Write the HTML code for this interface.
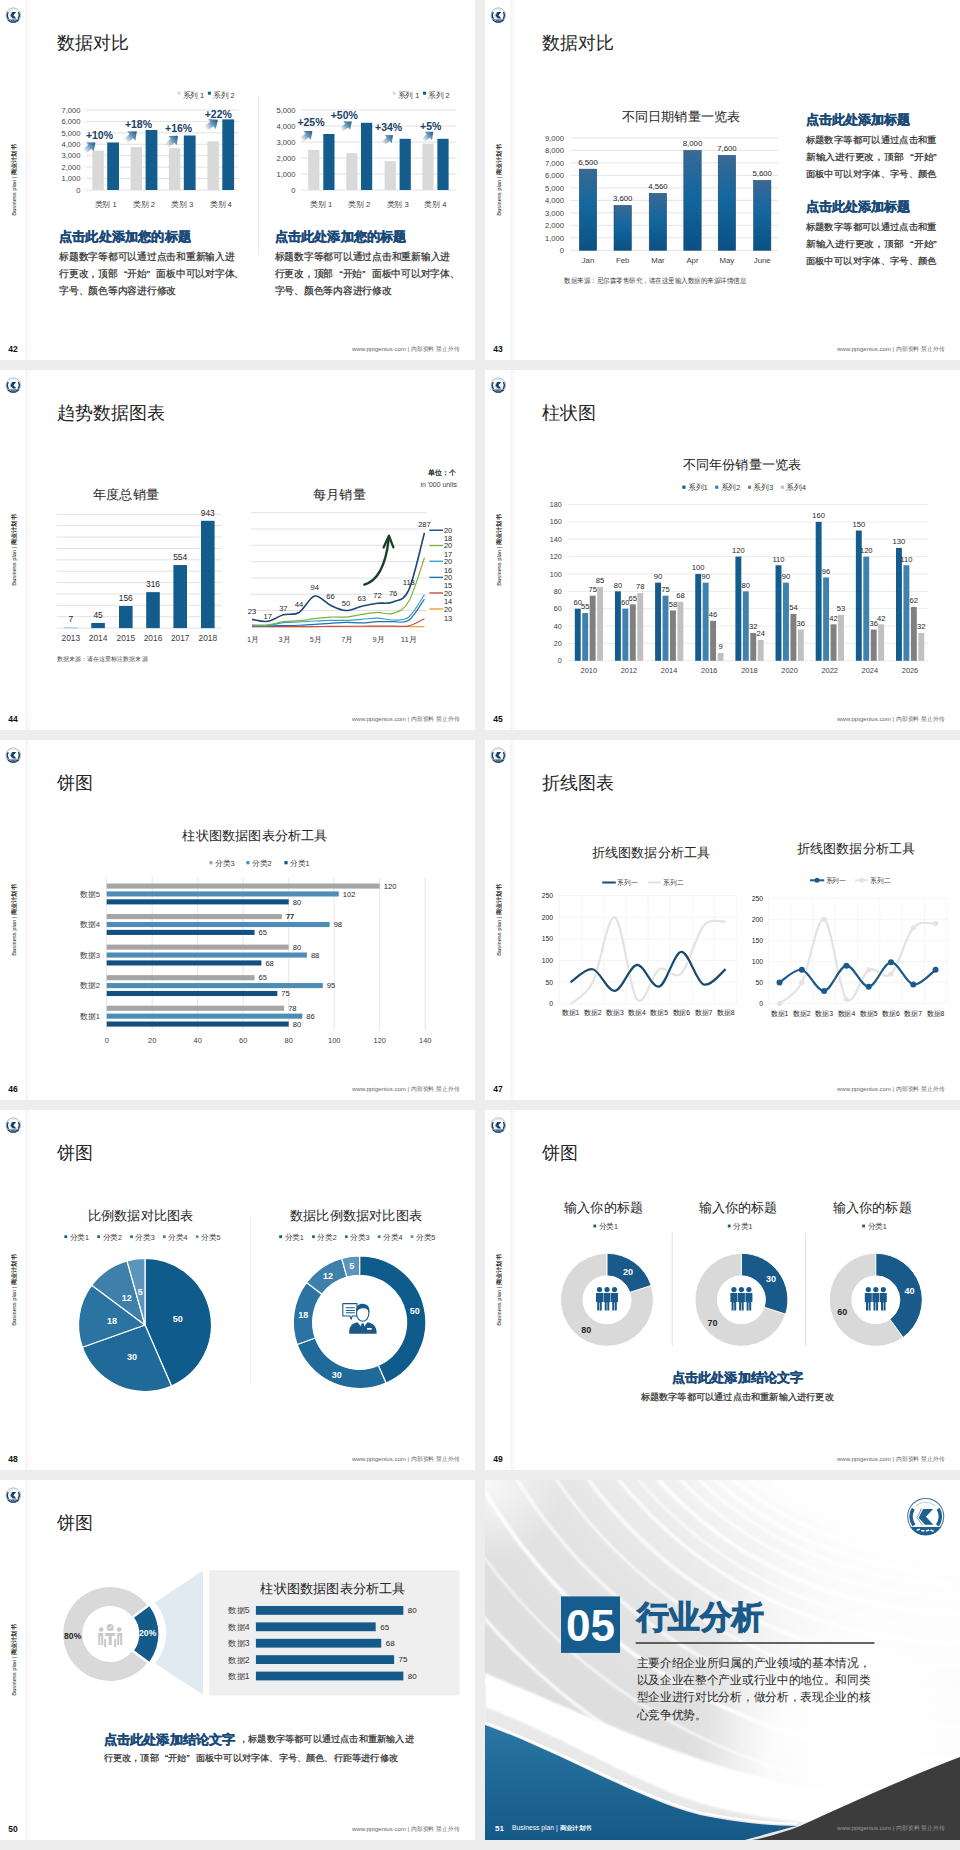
<!DOCTYPE html>
<html><head><meta charset="utf-8"><title>slides</title>
<style>
html,body{margin:0;padding:0;background:#ededed;}
body{width:960px;height:1850px;overflow:hidden;}
svg{display:block;font-family:"Liberation Sans", sans-serif;}
</style></head><body>
<svg width="960" height="1850" viewBox="0 0 960 1850">
<defs>
<symbol id="logo" viewBox="-20 -20 40 40" overflow="visible">
  <circle cx="0" cy="0" r="19.2" fill="#fff" stroke="currentColor" stroke-width="1.1" stroke-opacity="0.85"/>
  <path d="M-16.4,11.2 A19.5,19.5 0 0 0 16.4,11.2 Z" fill="currentColor"/>
  <path d="M-13.2,-8.2 A15.3,15.3 0 0 0 -12.4,9.4" fill="none" stroke="currentColor" stroke-width="3.7"/>
  <path d="M13.2,-8.2 A15.3,15.3 0 0 1 12.4,9.4" fill="none" stroke="currentColor" stroke-width="3.7"/>
  <path d="M7.8,-8.1 L-2.8,-8.1 L-7.5,1.4 L-0.8,8.7 L8.2,8.7 L0.3,0.3 Z" fill="currentColor"/>
  <path d="M-4.6,-8.6 Q-6.5,-3 -9.3,1.2 Q-6.5,5 -3.4,9.2" fill="none" stroke="currentColor" stroke-width="0.8" stroke-opacity="0.85"/>
  <path d="M-10.5,-11 A15.5,15.5 0 0 1 10.5,-11" fill="none" stroke="currentColor" stroke-width="0.9" stroke-dasharray="1.1 0.7" stroke-opacity="0.6"/>
  <path d="M-9,14.6 l2.2,-1 M-4.2,15.2 l2.4,0 M0.8,15.2 l2.4,-0.6 M5.6,14.6 l2.2,0.8" stroke="#fff" stroke-width="1.5" stroke-linecap="round"/>
</symbol>


<linearGradient id="strip" x1="0" y1="0" x2="1" y2="0">
  <stop offset="0" stop-color="#f5f5f5"/>
  <stop offset="0.35" stop-color="#f7f7f7"/>
  <stop offset="1" stop-color="#ffffff"/>
</linearGradient>
<linearGradient id="arrg" x1="0" y1="0" x2="14" y2="0" gradientUnits="userSpaceOnUse">
  <stop offset="0" stop-color="#1e5c8c" stop-opacity="0"/>
  <stop offset="0.55" stop-color="#2a6a9a" stop-opacity="0.7"/>
  <stop offset="1" stop-color="#1a5484" stop-opacity="1"/>
</linearGradient>


<linearGradient id="barg43" x1="0" y1="0" x2="0" y2="1">
  <stop offset="0" stop-color="#3a6994"/>
  <stop offset="0.45" stop-color="#13679f"/>
  <stop offset="1" stop-color="#0b5083"/>
</linearGradient>


<radialGradient id="rad51" cx="960" cy="1205" r="700" gradientUnits="userSpaceOnUse">
  <stop offset="0" stop-color="#fff" stop-opacity="1"/>
  <stop offset="0.47" stop-color="#fff" stop-opacity="1"/>
  <stop offset="0.56" stop-color="#fff" stop-opacity="0.62"/>
  <stop offset="0.72" stop-color="#fff" stop-opacity="0.22"/>
  <stop offset="0.9" stop-color="#fff" stop-opacity="0.05"/>
  <stop offset="1" stop-color="#fff" stop-opacity="0"/>
</radialGradient>
<linearGradient id="rgt51" x1="680" y1="0" x2="960" y2="0" gradientUnits="userSpaceOnUse">
  <stop offset="0" stop-color="#fff" stop-opacity="0"/>
  <stop offset="1" stop-color="#fff" stop-opacity="0.75"/>
</linearGradient>
<radialGradient id="tl51" cx="485" cy="1480" r="80" gradientUnits="userSpaceOnUse">
  <stop offset="0" stop-color="#fff" stop-opacity="0.8"/>
  <stop offset="1" stop-color="#fff" stop-opacity="0"/>
</radialGradient>
<radialGradient id="haze52" cx="850" cy="1770" r="150" gradientUnits="userSpaceOnUse">
  <stop offset="0" stop-color="#fff" stop-opacity="1"/>
  <stop offset="0.55" stop-color="#fff" stop-opacity="0.8"/>
  <stop offset="1" stop-color="#fff" stop-opacity="0"/>
</radialGradient>
<radialGradient id="haze51" cx="880" cy="1660" r="170" gradientUnits="userSpaceOnUse">
  <stop offset="0" stop-color="#fff" stop-opacity="0.9"/>
  <stop offset="0.6" stop-color="#fff" stop-opacity="0.5"/>
  <stop offset="1" stop-color="#fff" stop-opacity="0"/>
</radialGradient>
<linearGradient id="blue51" x1="0" y1="0" x2="0" y2="1">
  <stop offset="0" stop-color="#2a76a3"/>
  <stop offset="1" stop-color="#155987"/>
</linearGradient>
<filter id="blur1" x="-5%" y="-5%" width="110%" height="110%"><feGaussianBlur stdDeviation="1.1"/></filter>
<clipPath id="clip51"><rect x="485" y="1480" width="475" height="360"/></clipPath>
</defs>
<rect x="0" y="0" width="960" height="1850" fill="#ededed"/>
<rect x="0" y="0" width="475" height="360" fill="#ffffff"/>
<rect x="25" y="0" width="6" height="360" fill="url(#strip)"/>
<use href="#logo" x="5.7" y="7.6" width="15.2" height="15.2" style="color:#173d66"/>
<text transform="translate(15.5,180) rotate(-90)" font-size="5.6" fill="#222" text-anchor="middle" textLength="71.4" lengthAdjust="spacingAndGlyphs">Business plan | <tspan font-weight="bold">商业计划书</tspan></text>
<text x="12.9" y="351.5" font-size="8.5" fill="#111" text-anchor="middle" font-weight="bold">42</text>
<text x="459.5" y="351.2" font-size="6.2" fill="#666" text-anchor="end" textLength="107.5" lengthAdjust="spacingAndGlyphs">www.pptgenius.com | 内部资料 禁止外传</text>
<text x="57" y="48.5" font-size="18" fill="#262626" textLength="72" lengthAdjust="spacingAndGlyphs">数据对比</text>
<line x1="258.5" y1="96" x2="258.5" y2="255" stroke="#eeeeee" stroke-width="1"/>
<line x1="86" y1="190" x2="239" y2="190" stroke="#d9d9d9" stroke-width="0.8"/>
<text x="80.5" y="192.74" font-size="7.6" fill="#404040" text-anchor="end">0</text>
<line x1="86" y1="178.57" x2="239" y2="178.57" stroke="#d9d9d9" stroke-width="0.8"/>
<text x="80.5" y="181.31" font-size="7.6" fill="#404040" text-anchor="end">1,000</text>
<line x1="86" y1="167.14" x2="239" y2="167.14" stroke="#d9d9d9" stroke-width="0.8"/>
<text x="80.5" y="169.88" font-size="7.6" fill="#404040" text-anchor="end">2,000</text>
<line x1="86" y1="155.71" x2="239" y2="155.71" stroke="#d9d9d9" stroke-width="0.8"/>
<text x="80.5" y="158.45" font-size="7.6" fill="#404040" text-anchor="end">3,000</text>
<line x1="86" y1="144.29" x2="239" y2="144.29" stroke="#d9d9d9" stroke-width="0.8"/>
<text x="80.5" y="147.02" font-size="7.6" fill="#404040" text-anchor="end">4,000</text>
<line x1="86" y1="132.86" x2="239" y2="132.86" stroke="#d9d9d9" stroke-width="0.8"/>
<text x="80.5" y="135.59" font-size="7.6" fill="#404040" text-anchor="end">5,000</text>
<line x1="86" y1="121.43" x2="239" y2="121.43" stroke="#d9d9d9" stroke-width="0.8"/>
<text x="80.5" y="124.16" font-size="7.6" fill="#404040" text-anchor="end">6,000</text>
<line x1="86" y1="110" x2="239" y2="110" stroke="#d9d9d9" stroke-width="0.8"/>
<text x="80.5" y="112.74" font-size="7.6" fill="#404040" text-anchor="end">7,000</text>
<rect x="92.3" y="150.57" width="11.5" height="39.43" fill="#d9d9d9"/>
<rect x="107.2" y="142.46" width="11.8" height="47.54" fill="#135c8d"/>
<rect x="130.6" y="147.03" width="11.5" height="42.97" fill="#d9d9d9"/>
<rect x="145.6" y="130" width="11.8" height="60" fill="#135c8d"/>
<rect x="168.9" y="148.06" width="11.5" height="41.94" fill="#d9d9d9"/>
<rect x="183.8" y="135.49" width="11.8" height="54.51" fill="#135c8d"/>
<rect x="207.4" y="141.2" width="11.5" height="48.8" fill="#d9d9d9"/>
<rect x="222.3" y="119.37" width="11.8" height="70.63" fill="#135c8d"/>
<text x="105.65" y="206.81" font-size="7.8" fill="#404040" text-anchor="middle" textLength="22.11" lengthAdjust="spacingAndGlyphs">类别 1</text>
<text x="144" y="206.81" font-size="7.8" fill="#404040" text-anchor="middle" textLength="22.11" lengthAdjust="spacingAndGlyphs">类别 2</text>
<text x="182.25" y="206.81" font-size="7.8" fill="#404040" text-anchor="middle" textLength="22.11" lengthAdjust="spacingAndGlyphs">类别 3</text>
<text x="220.75" y="206.81" font-size="7.8" fill="#404040" text-anchor="middle" textLength="22.11" lengthAdjust="spacingAndGlyphs">类别 4</text>
<text x="85.9" y="139.48" font-size="10.5" fill="#1a4268" font-weight="bold">+10%</text>
<text x="124.9" y="128.08" font-size="10.5" fill="#1a4268" font-weight="bold">+18%</text>
<text x="165" y="132.38" font-size="10.5" fill="#1a4268" font-weight="bold">+16%</text>
<text x="204.7" y="117.78" font-size="10.5" fill="#1a4268" font-weight="bold">+22%</text>
<g transform="translate(84.2,151.5) rotate(-38.54) scale(1.03)"><path d="M0,-2.5 L7.2,-2.5 L7.2,-5.8 L14,0 L7.2,5.8 L7.2,2.5 L0,2.5 Z" fill="url(#arrg)"/></g>
<g transform="translate(125.5,141.3) rotate(-41.79) scale(1.08)"><path d="M0,-2.5 L7.2,-2.5 L7.2,-5.8 L14,0 L7.2,5.8 L7.2,2.5 L0,2.5 Z" fill="url(#arrg)"/></g>
<g transform="translate(166.8,145.9) rotate(-42.04) scale(1.08)"><path d="M0,-2.5 L7.2,-2.5 L7.2,-5.8 L14,0 L7.2,5.8 L7.2,2.5 L0,2.5 Z" fill="url(#arrg)"/></g>
<g transform="translate(205.5,128.7) rotate(-36.05) scale(1.1)"><path d="M0,-2.5 L7.2,-2.5 L7.2,-5.8 L14,0 L7.2,5.8 L7.2,2.5 L0,2.5 Z" fill="url(#arrg)"/></g>
<rect x="177.5" y="91.7" width="3" height="3" fill="#d9d9d9"/>
<text x="182.5" y="97.95" font-size="7.65" fill="#404040" textLength="21.68" lengthAdjust="spacingAndGlyphs">系列 1</text>
<rect x="207.9" y="91.7" width="3" height="3" fill="#135c8d"/>
<text x="212.9" y="97.95" font-size="7.65" fill="#404040" textLength="21.68" lengthAdjust="spacingAndGlyphs">系列 2</text>
<line x1="301" y1="190" x2="456" y2="190" stroke="#d9d9d9" stroke-width="0.8"/>
<text x="295.5" y="192.74" font-size="7.6" fill="#404040" text-anchor="end">0</text>
<line x1="301" y1="174" x2="456" y2="174" stroke="#d9d9d9" stroke-width="0.8"/>
<text x="295.5" y="176.74" font-size="7.6" fill="#404040" text-anchor="end">1,000</text>
<line x1="301" y1="158" x2="456" y2="158" stroke="#d9d9d9" stroke-width="0.8"/>
<text x="295.5" y="160.74" font-size="7.6" fill="#404040" text-anchor="end">2,000</text>
<line x1="301" y1="142" x2="456" y2="142" stroke="#d9d9d9" stroke-width="0.8"/>
<text x="295.5" y="144.74" font-size="7.6" fill="#404040" text-anchor="end">3,000</text>
<line x1="301" y1="126" x2="456" y2="126" stroke="#d9d9d9" stroke-width="0.8"/>
<text x="295.5" y="128.74" font-size="7.6" fill="#404040" text-anchor="end">4,000</text>
<line x1="301" y1="110" x2="456" y2="110" stroke="#d9d9d9" stroke-width="0.8"/>
<text x="295.5" y="112.74" font-size="7.6" fill="#404040" text-anchor="end">5,000</text>
<rect x="308.2" y="150" width="11.2" height="40" fill="#d9d9d9"/>
<rect x="323.3" y="134" width="11.2" height="56" fill="#135c8d"/>
<rect x="346.3" y="153.2" width="11.2" height="36.8" fill="#d9d9d9"/>
<rect x="361" y="122.8" width="11.2" height="67.2" fill="#135c8d"/>
<rect x="384.6" y="161.2" width="11.2" height="28.8" fill="#d9d9d9"/>
<rect x="399.6" y="138.8" width="11.2" height="51.2" fill="#135c8d"/>
<rect x="422.4" y="143.6" width="11.2" height="46.4" fill="#d9d9d9"/>
<rect x="437.4" y="138.8" width="11.2" height="51.2" fill="#135c8d"/>
<text x="321.35" y="206.81" font-size="7.8" fill="#404040" text-anchor="middle" textLength="22.11" lengthAdjust="spacingAndGlyphs">类别 1</text>
<text x="359.25" y="206.81" font-size="7.8" fill="#404040" text-anchor="middle" textLength="22.11" lengthAdjust="spacingAndGlyphs">类别 2</text>
<text x="397.7" y="206.81" font-size="7.8" fill="#404040" text-anchor="middle" textLength="22.11" lengthAdjust="spacingAndGlyphs">类别 3</text>
<text x="435.5" y="206.81" font-size="7.8" fill="#404040" text-anchor="middle" textLength="22.11" lengthAdjust="spacingAndGlyphs">类别 4</text>
<text x="297.4" y="126.18" font-size="10.5" fill="#1a4268" font-weight="bold">+25%</text>
<text x="330.7" y="119.28" font-size="10.5" fill="#1a4268" font-weight="bold">+50%</text>
<text x="375" y="131.48" font-size="10.5" fill="#1a4268" font-weight="bold">+34%</text>
<text x="420" y="130.38" font-size="10.5" fill="#1a4268" font-weight="bold">+5%</text>
<g transform="translate(301.5,140.1) rotate(-39.55) scale(1.01)"><path d="M0,-2.5 L7.2,-2.5 L7.2,-5.8 L14,0 L7.2,5.8 L7.2,2.5 L0,2.5 Z" fill="url(#arrg)"/></g>
<g transform="translate(341.2,129.8) rotate(-38.06) scale(0.96)"><path d="M0,-2.5 L7.2,-2.5 L7.2,-5.8 L14,0 L7.2,5.8 L7.2,2.5 L0,2.5 Z" fill="url(#arrg)"/></g>
<g transform="translate(382.9,143.5) rotate(-39.14) scale(0.94)"><path d="M0,-2.5 L7.2,-2.5 L7.2,-5.8 L14,0 L7.2,5.8 L7.2,2.5 L0,2.5 Z" fill="url(#arrg)"/></g>
<g transform="translate(423.1,140.5) rotate(-40.46) scale(0.96)"><path d="M0,-2.5 L7.2,-2.5 L7.2,-5.8 L14,0 L7.2,5.8 L7.2,2.5 L0,2.5 Z" fill="url(#arrg)"/></g>
<rect x="392.6" y="91.7" width="3" height="3" fill="#d9d9d9"/>
<text x="397.6" y="97.95" font-size="7.65" fill="#404040" textLength="21.68" lengthAdjust="spacingAndGlyphs">系列 1</text>
<rect x="423" y="91.7" width="3" height="3" fill="#135c8d"/>
<text x="428" y="97.95" font-size="7.65" fill="#404040" textLength="21.68" lengthAdjust="spacingAndGlyphs">系列 2</text>
<text x="59" y="241.25" font-size="13.2" fill="#1a4a78" font-weight="bold" textLength="132" lengthAdjust="spacingAndGlyphs" stroke="#1a4a78" stroke-width="0.35">点击此处添加您的标题</text>
<text x="59" y="260.21" font-size="9.75" fill="#303030" textLength="175.5" lengthAdjust="spacingAndGlyphs" stroke="#303030" stroke-width="0.22">标题数字等都可以通过点击和重新输入进</text>
<text x="59" y="277.01" font-size="9.75" fill="#303030" textLength="185.25" lengthAdjust="spacingAndGlyphs" stroke="#303030" stroke-width="0.22">行更改，顶部<tspan dx="6.5">“</tspan>开始”<tspan dx="6.5">面</tspan>板中可以对字体、</text>
<text x="59" y="293.81" font-size="9.75" fill="#303030" textLength="117" lengthAdjust="spacingAndGlyphs" stroke="#303030" stroke-width="0.22">字号、颜色等内容进行修改</text>
<text x="274.5" y="241.25" font-size="13.2" fill="#1a4a78" font-weight="bold" textLength="132" lengthAdjust="spacingAndGlyphs" stroke="#1a4a78" stroke-width="0.35">点击此处添加您的标题</text>
<text x="274.5" y="260.21" font-size="9.75" fill="#303030" textLength="175.5" lengthAdjust="spacingAndGlyphs" stroke="#303030" stroke-width="0.22">标题数字等都可以通过点击和重新输入进</text>
<text x="274.5" y="277.01" font-size="9.75" fill="#303030" textLength="185.25" lengthAdjust="spacingAndGlyphs" stroke="#303030" stroke-width="0.22">行更改，顶部<tspan dx="6.5">“</tspan>开始”<tspan dx="6.5">面</tspan>板中可以对字体、</text>
<text x="274.5" y="293.81" font-size="9.75" fill="#303030" textLength="117" lengthAdjust="spacingAndGlyphs" stroke="#303030" stroke-width="0.22">字号、颜色等内容进行修改</text>
<rect x="485" y="0" width="475" height="360" fill="#ffffff"/>
<rect x="510" y="0" width="6" height="360" fill="url(#strip)"/>
<use href="#logo" x="490.7" y="7.6" width="15.2" height="15.2" style="color:#173d66"/>
<text transform="translate(500.5,180) rotate(-90)" font-size="5.6" fill="#222" text-anchor="middle" textLength="71.4" lengthAdjust="spacingAndGlyphs">Business plan | <tspan font-weight="bold">商业计划书</tspan></text>
<text x="497.9" y="351.5" font-size="8.5" fill="#111" text-anchor="middle" font-weight="bold">43</text>
<text x="944.5" y="351.2" font-size="6.2" fill="#666" text-anchor="end" textLength="107.5" lengthAdjust="spacingAndGlyphs">www.pptgenius.com | 内部资料 禁止外传</text>
<text x="542" y="48.5" font-size="18" fill="#262626" textLength="72" lengthAdjust="spacingAndGlyphs">数据对比</text>
<text x="681" y="121.05" font-size="13.2" fill="#262626" text-anchor="middle" textLength="118.8" lengthAdjust="spacingAndGlyphs">不同日期销量一览表</text>
<line x1="570.5" y1="250.3" x2="778" y2="250.3" stroke="#d9d9d9" stroke-width="0.7"/>
<text x="564" y="253.04" font-size="7.6" fill="#404040" text-anchor="end">0</text>
<line x1="570.5" y1="237.81" x2="778" y2="237.81" stroke="#d9d9d9" stroke-width="0.7"/>
<text x="564" y="240.55" font-size="7.6" fill="#404040" text-anchor="end">1,000</text>
<line x1="570.5" y1="225.32" x2="778" y2="225.32" stroke="#d9d9d9" stroke-width="0.7"/>
<text x="564" y="228.06" font-size="7.6" fill="#404040" text-anchor="end">2,000</text>
<line x1="570.5" y1="212.83" x2="778" y2="212.83" stroke="#d9d9d9" stroke-width="0.7"/>
<text x="564" y="215.57" font-size="7.6" fill="#404040" text-anchor="end">3,000</text>
<line x1="570.5" y1="200.34" x2="778" y2="200.34" stroke="#d9d9d9" stroke-width="0.7"/>
<text x="564" y="203.08" font-size="7.6" fill="#404040" text-anchor="end">4,000</text>
<line x1="570.5" y1="187.86" x2="778" y2="187.86" stroke="#d9d9d9" stroke-width="0.7"/>
<text x="564" y="190.59" font-size="7.6" fill="#404040" text-anchor="end">5,000</text>
<line x1="570.5" y1="175.37" x2="778" y2="175.37" stroke="#d9d9d9" stroke-width="0.7"/>
<text x="564" y="178.1" font-size="7.6" fill="#404040" text-anchor="end">6,000</text>
<line x1="570.5" y1="162.88" x2="778" y2="162.88" stroke="#d9d9d9" stroke-width="0.7"/>
<text x="564" y="165.61" font-size="7.6" fill="#404040" text-anchor="end">7,000</text>
<line x1="570.5" y1="150.39" x2="778" y2="150.39" stroke="#d9d9d9" stroke-width="0.7"/>
<text x="564" y="153.12" font-size="7.6" fill="#404040" text-anchor="end">8,000</text>
<line x1="570.5" y1="137.9" x2="778" y2="137.9" stroke="#d9d9d9" stroke-width="0.7"/>
<text x="564" y="140.64" font-size="7.6" fill="#404040" text-anchor="end">9,000</text>
<rect x="579.3" y="169.12" width="17.4" height="81.18" fill="url(#barg43)" stroke="#123f66" stroke-width="0.5"/>
<text x="588" y="164.93" font-size="7.8" fill="#262626" text-anchor="middle">6,500</text>
<text x="588" y="263.11" font-size="7.8" fill="#404040" text-anchor="middle">Jan</text>
<rect x="614" y="205.34" width="17.4" height="44.96" fill="url(#barg43)" stroke="#123f66" stroke-width="0.5"/>
<text x="622.7" y="201.15" font-size="7.8" fill="#262626" text-anchor="middle">3,600</text>
<text x="622.7" y="263.11" font-size="7.8" fill="#404040" text-anchor="middle">Feb</text>
<rect x="649.2" y="193.35" width="17.4" height="56.95" fill="url(#barg43)" stroke="#123f66" stroke-width="0.5"/>
<text x="657.9" y="189.16" font-size="7.8" fill="#262626" text-anchor="middle">4,560</text>
<text x="657.9" y="263.11" font-size="7.8" fill="#404040" text-anchor="middle">Mar</text>
<rect x="683.8" y="150.39" width="17.4" height="99.91" fill="url(#barg43)" stroke="#123f66" stroke-width="0.5"/>
<text x="692.5" y="146.2" font-size="7.8" fill="#262626" text-anchor="middle">8,000</text>
<text x="692.5" y="263.11" font-size="7.8" fill="#404040" text-anchor="middle">Apr</text>
<rect x="718.2" y="155.38" width="17.4" height="94.92" fill="url(#barg43)" stroke="#123f66" stroke-width="0.5"/>
<text x="726.9" y="151.19" font-size="7.8" fill="#262626" text-anchor="middle">7,600</text>
<text x="726.9" y="263.11" font-size="7.8" fill="#404040" text-anchor="middle">May</text>
<rect x="753.5" y="180.36" width="17.4" height="69.94" fill="url(#barg43)" stroke="#123f66" stroke-width="0.5"/>
<text x="762.2" y="176.17" font-size="7.8" fill="#262626" text-anchor="middle">5,600</text>
<text x="762.2" y="263.11" font-size="7.8" fill="#404040" text-anchor="middle">June</text>
<text x="564" y="283.34" font-size="6.5" fill="#404040" textLength="182" lengthAdjust="spacingAndGlyphs">数据来源：尼尔森零售研究，请在这里输入数据的来源详情信息</text>
<text x="805.8" y="124.42" font-size="13.1" fill="#1a4a78" font-weight="bold" textLength="104.8" lengthAdjust="spacingAndGlyphs" stroke="#1a4a78" stroke-width="0.35">点击此处添加标题</text>
<text x="805.8" y="143.37" font-size="9.35" fill="#303030" textLength="130.9" lengthAdjust="spacingAndGlyphs" stroke="#303030" stroke-width="0.22">标题数字等都可以通过点击和重</text>
<text x="805.8" y="160.17" font-size="9.35" fill="#303030" textLength="130.9" lengthAdjust="spacingAndGlyphs" stroke="#303030" stroke-width="0.22">新输入进行更改，顶部<tspan dx="6.24">“</tspan>开始”</text>
<text x="805.8" y="176.97" font-size="9.35" fill="#303030" textLength="130.9" lengthAdjust="spacingAndGlyphs" stroke="#303030" stroke-width="0.22">面板中可以对字体、字号、颜色</text>
<text x="805.8" y="211.42" font-size="13.1" fill="#1a4a78" font-weight="bold" textLength="104.8" lengthAdjust="spacingAndGlyphs" stroke="#1a4a78" stroke-width="0.35">点击此处添加标题</text>
<text x="805.8" y="230.07" font-size="9.35" fill="#303030" textLength="130.9" lengthAdjust="spacingAndGlyphs" stroke="#303030" stroke-width="0.22">标题数字等都可以通过点击和重</text>
<text x="805.8" y="246.87" font-size="9.35" fill="#303030" textLength="130.9" lengthAdjust="spacingAndGlyphs" stroke="#303030" stroke-width="0.22">新输入进行更改，顶部<tspan dx="6.24">“</tspan>开始”</text>
<text x="805.8" y="263.67" font-size="9.35" fill="#303030" textLength="130.9" lengthAdjust="spacingAndGlyphs" stroke="#303030" stroke-width="0.22">面板中可以对字体、字号、颜色</text>
<rect x="0" y="370" width="475" height="360" fill="#ffffff"/>
<rect x="25" y="370" width="6" height="360" fill="url(#strip)"/>
<use href="#logo" x="5.7" y="377.6" width="15.2" height="15.2" style="color:#173d66"/>
<text transform="translate(15.5,550) rotate(-90)" font-size="5.6" fill="#222" text-anchor="middle" textLength="71.4" lengthAdjust="spacingAndGlyphs">Business plan | <tspan font-weight="bold">商业计划书</tspan></text>
<text x="12.9" y="721.5" font-size="8.5" fill="#111" text-anchor="middle" font-weight="bold">44</text>
<text x="459.5" y="721.2" font-size="6.2" fill="#666" text-anchor="end" textLength="107.5" lengthAdjust="spacingAndGlyphs">www.pptgenius.com | 内部资料 禁止外传</text>
<text x="57" y="418.5" font-size="18" fill="#262626" textLength="108" lengthAdjust="spacingAndGlyphs">趋势数据图表</text>
<text x="126" y="498.75" font-size="13.2" fill="#262626" text-anchor="middle" textLength="66" lengthAdjust="spacingAndGlyphs">年度总销量</text>
<line x1="56.6" y1="628.1" x2="221.6" y2="628.1" stroke="#d9d9d9" stroke-width="0.8"/>
<line x1="56.6" y1="616.72" x2="221.6" y2="616.72" stroke="#d9d9d9" stroke-width="0.8"/>
<line x1="56.6" y1="605.34" x2="221.6" y2="605.34" stroke="#d9d9d9" stroke-width="0.8"/>
<line x1="56.6" y1="593.96" x2="221.6" y2="593.96" stroke="#d9d9d9" stroke-width="0.8"/>
<line x1="56.6" y1="582.58" x2="221.6" y2="582.58" stroke="#d9d9d9" stroke-width="0.8"/>
<line x1="56.6" y1="571.2" x2="221.6" y2="571.2" stroke="#d9d9d9" stroke-width="0.8"/>
<line x1="56.6" y1="559.82" x2="221.6" y2="559.82" stroke="#d9d9d9" stroke-width="0.8"/>
<line x1="56.6" y1="548.44" x2="221.6" y2="548.44" stroke="#d9d9d9" stroke-width="0.8"/>
<line x1="56.6" y1="537.06" x2="221.6" y2="537.06" stroke="#d9d9d9" stroke-width="0.8"/>
<line x1="56.6" y1="525.68" x2="221.6" y2="525.68" stroke="#d9d9d9" stroke-width="0.8"/>
<line x1="56.6" y1="514.3" x2="221.6" y2="514.3" stroke="#d9d9d9" stroke-width="0.8"/>
<rect x="64" y="627.3" width="13.6" height="1" fill="#9dc3e6"/>
<text x="70.8" y="622.33" font-size="8.4" fill="#262626" text-anchor="middle">7</text>
<text x="70.8" y="641.02" font-size="8.4" fill="#404040" text-anchor="middle">2013</text>
<rect x="91.3" y="622.98" width="13.6" height="5.12" fill="#135c8d"/>
<text x="98.1" y="618" font-size="8.4" fill="#262626" text-anchor="middle">45</text>
<text x="98.1" y="641.02" font-size="8.4" fill="#404040" text-anchor="middle">2014</text>
<rect x="119" y="606.02" width="13.6" height="22.08" fill="#135c8d"/>
<text x="125.8" y="601.05" font-size="8.4" fill="#262626" text-anchor="middle">156</text>
<text x="125.8" y="641.02" font-size="8.4" fill="#404040" text-anchor="middle">2015</text>
<rect x="146.2" y="592.14" width="13.6" height="35.96" fill="#135c8d"/>
<text x="153" y="587.16" font-size="8.4" fill="#262626" text-anchor="middle">316</text>
<text x="153" y="641.02" font-size="8.4" fill="#404040" text-anchor="middle">2016</text>
<rect x="173.4" y="565.05" width="13.6" height="63.05" fill="#135c8d"/>
<text x="180.2" y="560.08" font-size="8.4" fill="#262626" text-anchor="middle">554</text>
<text x="180.2" y="641.02" font-size="8.4" fill="#404040" text-anchor="middle">2017</text>
<rect x="201" y="520.79" width="13.6" height="107.31" fill="#135c8d"/>
<text x="207.8" y="515.81" font-size="8.4" fill="#262626" text-anchor="middle">943</text>
<text x="207.8" y="641.02" font-size="8.4" fill="#404040" text-anchor="middle">2018</text>
<text x="56.6" y="661.3" font-size="6.4" fill="#404040" textLength="91" lengthAdjust="spacingAndGlyphs">数据来源：请在这里标注数据来源</text>
<text x="455.6" y="475" font-size="7" fill="#262626" text-anchor="end" font-weight="bold" textLength="28" lengthAdjust="spacingAndGlyphs">单位：个</text>
<text x="457" y="487" font-size="6.9" fill="#404040" text-anchor="end">in '000 units</text>
<text x="339.5" y="499.45" font-size="13.2" fill="#262626" text-anchor="middle" textLength="52.8" lengthAdjust="spacingAndGlyphs">每月销量</text>
<line x1="250.8" y1="512.7" x2="427" y2="512.7" stroke="#d9d9d9" stroke-width="0.8"/>
<line x1="250.8" y1="529" x2="427" y2="529" stroke="#d9d9d9" stroke-width="0.8"/>
<line x1="250.8" y1="545.3" x2="427" y2="545.3" stroke="#d9d9d9" stroke-width="0.8"/>
<line x1="250.8" y1="561.6" x2="427" y2="561.6" stroke="#d9d9d9" stroke-width="0.8"/>
<line x1="250.8" y1="578.1" x2="427" y2="578.1" stroke="#d9d9d9" stroke-width="0.8"/>
<line x1="250.8" y1="594.2" x2="427" y2="594.2" stroke="#d9d9d9" stroke-width="0.8"/>
<line x1="250.8" y1="610.5" x2="427" y2="610.5" stroke="#d9d9d9" stroke-width="0.8"/>
<path d="M252,626.74 C254.61,626.74 262.45,626.74 267.68,626.74 C272.91,626.74 278.13,626.74 283.36,626.74 C288.59,626.74 293.81,626.74 299.04,626.74 C304.27,626.74 309.49,626.74 314.72,626.74 C319.95,626.74 325.17,626.74 330.4,626.74 C335.63,626.74 340.85,626.74 346.08,626.74 C351.31,626.74 356.53,626.74 361.76,626.74 C366.99,626.74 372.21,626.74 377.44,626.74 C382.67,626.74 387.89,626.74 393.12,626.74 C398.35,626.74 403.57,626.75 408.8,626.74 C414.03,626.72 421.87,626.65 424.48,626.64" fill="none" stroke="#f0a030" stroke-width="1.2"/>
<path d="M252,626.57 C254.61,626.57 262.45,626.57 267.68,626.57 C272.91,626.57 278.13,626.57 283.36,626.57 C288.59,626.57 293.81,626.57 299.04,626.57 C304.27,626.57 309.49,626.6 314.72,626.57 C319.95,626.54 325.17,626.46 330.4,626.41 C335.63,626.35 340.85,626.27 346.08,626.24 C351.31,626.22 356.53,626.27 361.76,626.24 C366.99,626.22 372.21,626.11 377.44,626.08 C382.67,626.05 387.89,626.11 393.12,626.08 C398.35,626.05 403.57,627.15 408.8,625.92 C414.03,624.69 421.87,619.9 424.48,618.7" fill="none" stroke="#c0504d" stroke-width="1.2"/>
<path d="M252,625.92 C254.61,625.92 262.45,625.97 267.68,625.92 C272.91,625.86 278.13,625.7 283.36,625.59 C288.59,625.48 293.81,625.48 299.04,625.26 C304.27,625.04 309.49,624.6 314.72,624.28 C319.95,623.95 325.17,623.62 330.4,623.29 C335.63,622.96 340.85,622.36 346.08,622.31 C351.31,622.25 356.53,623.07 361.76,622.96 C366.99,622.85 372.21,621.87 377.44,621.65 C382.67,621.43 387.89,621.87 393.12,621.65 C398.35,621.43 403.57,624.11 408.8,620.34 C414.03,616.57 421.87,602.57 424.48,599.02" fill="none" stroke="#1f6fb5" stroke-width="1.2"/>
<path d="M252,625.59 C254.61,625.59 262.45,626.08 267.68,625.59 C272.91,625.1 278.13,623.24 283.36,622.64 C288.59,622.03 293.81,622.25 299.04,621.98 C304.27,621.71 309.49,621.27 314.72,621 C319.95,620.72 325.17,620.45 330.4,620.34 C335.63,620.23 340.85,620.5 346.08,620.34 C351.31,620.18 356.53,619.74 361.76,619.36 C366.99,618.97 372.21,617.93 377.44,618.04 C382.67,618.15 387.89,620.18 393.12,620.01 C398.35,619.85 403.57,621.27 408.8,617.06 C414.03,612.85 421.87,598.47 424.48,594.76" fill="none" stroke="#2ea0d6" stroke-width="1.2"/>
<path d="M252,624.93 C254.61,624.93 262.45,625.48 267.68,624.93 C272.91,624.39 278.13,622.36 283.36,621.65 C288.59,620.94 293.81,621.16 299.04,620.67 C304.27,620.18 309.49,619.3 314.72,618.7 C319.95,618.1 325.17,617.33 330.4,617.06 C335.63,616.79 340.85,617.5 346.08,617.06 C351.31,616.62 356.53,615.2 361.76,614.44 C366.99,613.67 372.21,612.63 377.44,612.47 C382.67,612.3 387.89,615.31 393.12,613.45 C398.35,611.59 403.57,610.61 408.8,601.32 C414.03,592.02 421.87,564.96 424.48,557.69" fill="none" stroke="#7db33a" stroke-width="1.2"/>
<path d="M252,619.36 C254.61,619.68 262.45,622.09 267.68,621.32 C272.91,620.56 278.13,616.24 283.36,614.76 C288.59,613.29 293.81,615.58 299.04,612.47 C304.27,609.35 309.49,597.27 314.72,596.07 C319.95,594.87 325.17,602.85 330.4,605.25 C335.63,607.66 340.85,610.34 346.08,610.5 C351.31,610.66 356.53,607.44 361.76,606.24 C366.99,605.03 372.21,603.99 377.44,603.28 C382.67,602.57 387.89,604.21 393.12,601.97 C398.35,599.73 403.57,601.37 408.8,589.84 C414.03,578.3 421.87,542.28 424.48,532.76" fill="none" stroke="#1b4876" stroke-width="1.6"/>
<text x="252" y="614.09" font-size="7.6" fill="#262626" text-anchor="middle">23</text>
<text x="267.68" y="618.56" font-size="7.6" fill="#262626" text-anchor="middle">17</text>
<text x="283.36" y="610.5" font-size="7.6" fill="#262626" text-anchor="middle">37</text>
<text x="299.04" y="607.2" font-size="7.6" fill="#262626" text-anchor="middle">44</text>
<text x="314.72" y="589.8" font-size="7.6" fill="#262626" text-anchor="middle">94</text>
<text x="330.4" y="598.99" font-size="7.6" fill="#262626" text-anchor="middle">66</text>
<text x="346.08" y="605.74" font-size="7.6" fill="#262626" text-anchor="middle">50</text>
<text x="361.76" y="601.47" font-size="7.6" fill="#262626" text-anchor="middle">63</text>
<text x="377.44" y="598.02" font-size="7.6" fill="#262626" text-anchor="middle">72</text>
<text x="393.12" y="595.71" font-size="7.6" fill="#262626" text-anchor="middle">76</text>
<text x="408.8" y="584.57" font-size="7.6" fill="#262626" text-anchor="middle">113</text>
<text x="424.48" y="526.5" font-size="7.6" fill="#262626" text-anchor="middle">287</text>
<text x="253" y="641.74" font-size="7.6" fill="#404040" text-anchor="middle" textLength="11.83" lengthAdjust="spacingAndGlyphs">1月</text>
<text x="284.36" y="641.74" font-size="7.6" fill="#404040" text-anchor="middle" textLength="11.83" lengthAdjust="spacingAndGlyphs">3月</text>
<text x="315.72" y="641.74" font-size="7.6" fill="#404040" text-anchor="middle" textLength="11.83" lengthAdjust="spacingAndGlyphs">5月</text>
<text x="347.08" y="641.74" font-size="7.6" fill="#404040" text-anchor="middle" textLength="11.83" lengthAdjust="spacingAndGlyphs">7月</text>
<text x="378.44" y="641.74" font-size="7.6" fill="#404040" text-anchor="middle" textLength="11.83" lengthAdjust="spacingAndGlyphs">9月</text>
<text x="408.8" y="641.74" font-size="7.6" fill="#404040" text-anchor="middle" textLength="16.05" lengthAdjust="spacingAndGlyphs">11月</text>
<line x1="429.3" y1="530.2" x2="443" y2="530.2" stroke="#1b4876" stroke-width="1.4"/>
<text x="444" y="532.86" font-size="7.4" fill="#262626">20</text>
<text x="444" y="540.56" font-size="7.4" fill="#262626">18</text>
<line x1="429.3" y1="545.5" x2="443" y2="545.5" stroke="#7db33a" stroke-width="1.4"/>
<text x="444" y="548.16" font-size="7.4" fill="#262626">20</text>
<text x="444" y="556.66" font-size="7.4" fill="#262626">17</text>
<line x1="429.3" y1="561.3" x2="443" y2="561.3" stroke="#2ea0d6" stroke-width="1.4"/>
<text x="444" y="563.96" font-size="7.4" fill="#262626">20</text>
<text x="444" y="572.86" font-size="7.4" fill="#262626">16</text>
<line x1="429.3" y1="577.4" x2="443" y2="577.4" stroke="#1f6fb5" stroke-width="1.4"/>
<text x="444" y="580.06" font-size="7.4" fill="#262626">20</text>
<text x="444" y="587.96" font-size="7.4" fill="#262626">15</text>
<line x1="429.3" y1="593" x2="443" y2="593" stroke="#c0504d" stroke-width="1.4"/>
<text x="444" y="595.66" font-size="7.4" fill="#262626">20</text>
<text x="444" y="604.06" font-size="7.4" fill="#262626">14</text>
<line x1="429.3" y1="609" x2="443" y2="609" stroke="#f0a030" stroke-width="1.4"/>
<text x="444" y="611.66" font-size="7.4" fill="#262626">20</text>
<text x="444" y="620.66" font-size="7.4" fill="#262626">13</text>
<path d="M364.3,584.6 Q384,579 388.6,540" fill="none" stroke="#173f24" stroke-width="2.3" stroke-linecap="round"/>
<path d="M383.6,547.5 L388.9,535.6 L393.4,547.4" fill="none" stroke="#173f24" stroke-width="2.3" stroke-linecap="round" stroke-linejoin="round"/>
<rect x="485" y="370" width="475" height="360" fill="#ffffff"/>
<rect x="510" y="370" width="6" height="360" fill="url(#strip)"/>
<use href="#logo" x="490.7" y="377.6" width="15.2" height="15.2" style="color:#173d66"/>
<text transform="translate(500.5,550) rotate(-90)" font-size="5.6" fill="#222" text-anchor="middle" textLength="71.4" lengthAdjust="spacingAndGlyphs">Business plan | <tspan font-weight="bold">商业计划书</tspan></text>
<text x="497.9" y="721.5" font-size="8.5" fill="#111" text-anchor="middle" font-weight="bold">45</text>
<text x="944.5" y="721.2" font-size="6.2" fill="#666" text-anchor="end" textLength="107.5" lengthAdjust="spacingAndGlyphs">www.pptgenius.com | 内部资料 禁止外传</text>
<text x="542" y="418.5" font-size="18" fill="#262626" textLength="54" lengthAdjust="spacingAndGlyphs">柱状图</text>
<text x="742" y="468.75" font-size="13.2" fill="#262626" text-anchor="middle" textLength="118.8" lengthAdjust="spacingAndGlyphs">不同年份销量一览表</text>
<rect x="682.3" y="485.6" width="3.2" height="3.2" fill="#135c8d"/>
<text x="687.8" y="490.31" font-size="7.8" fill="#404040" textLength="19.94" lengthAdjust="spacingAndGlyphs">系列1</text>
<rect x="715.1" y="485.6" width="3.2" height="3.2" fill="#3e82ad"/>
<text x="720.6" y="490.31" font-size="7.8" fill="#404040" textLength="19.94" lengthAdjust="spacingAndGlyphs">系列2</text>
<rect x="747.9" y="485.6" width="3.2" height="3.2" fill="#808080"/>
<text x="753.4" y="490.31" font-size="7.8" fill="#404040" textLength="19.94" lengthAdjust="spacingAndGlyphs">系列3</text>
<rect x="780.7" y="485.6" width="3.2" height="3.2" fill="#c0c0c0"/>
<text x="786.2" y="490.31" font-size="7.8" fill="#404040" textLength="19.94" lengthAdjust="spacingAndGlyphs">系列4</text>
<line x1="567.5" y1="660.8" x2="928" y2="660.8" stroke="#e3e3e3" stroke-width="0.7"/>
<text x="561.8" y="663.39" font-size="7.2" fill="#404040" text-anchor="end">0</text>
<line x1="567.5" y1="643.43" x2="928" y2="643.43" stroke="#e3e3e3" stroke-width="0.7"/>
<text x="561.8" y="646.03" font-size="7.2" fill="#404040" text-anchor="end">20</text>
<line x1="567.5" y1="626.07" x2="928" y2="626.07" stroke="#e3e3e3" stroke-width="0.7"/>
<text x="561.8" y="628.66" font-size="7.2" fill="#404040" text-anchor="end">40</text>
<line x1="567.5" y1="608.7" x2="928" y2="608.7" stroke="#e3e3e3" stroke-width="0.7"/>
<text x="561.8" y="611.29" font-size="7.2" fill="#404040" text-anchor="end">60</text>
<line x1="567.5" y1="591.33" x2="928" y2="591.33" stroke="#e3e3e3" stroke-width="0.7"/>
<text x="561.8" y="593.93" font-size="7.2" fill="#404040" text-anchor="end">80</text>
<line x1="567.5" y1="573.97" x2="928" y2="573.97" stroke="#e3e3e3" stroke-width="0.7"/>
<text x="561.8" y="576.56" font-size="7.2" fill="#404040" text-anchor="end">100</text>
<line x1="567.5" y1="556.6" x2="928" y2="556.6" stroke="#e3e3e3" stroke-width="0.7"/>
<text x="561.8" y="559.19" font-size="7.2" fill="#404040" text-anchor="end">120</text>
<line x1="567.5" y1="539.23" x2="928" y2="539.23" stroke="#e3e3e3" stroke-width="0.7"/>
<text x="561.8" y="541.83" font-size="7.2" fill="#404040" text-anchor="end">140</text>
<line x1="567.5" y1="521.87" x2="928" y2="521.87" stroke="#e3e3e3" stroke-width="0.7"/>
<text x="561.8" y="524.46" font-size="7.2" fill="#404040" text-anchor="end">160</text>
<line x1="567.5" y1="504.5" x2="928" y2="504.5" stroke="#e3e3e3" stroke-width="0.7"/>
<text x="561.8" y="507.09" font-size="7.2" fill="#404040" text-anchor="end">180</text>
<rect x="574.8" y="608.7" width="5.9" height="52.1" fill="#135c8d"/>
<rect x="582.25" y="613.04" width="5.9" height="47.76" fill="#3e82ad"/>
<rect x="589.7" y="595.67" width="5.9" height="65.12" fill="#808080"/>
<rect x="597.15" y="586.99" width="5.9" height="73.81" fill="#c0c0c0"/>
<text x="577.75" y="604.94" font-size="7.6" fill="#262626" text-anchor="middle">60</text>
<text x="585.2" y="609.28" font-size="7.6" fill="#262626" text-anchor="middle">55</text>
<text x="592.65" y="591.91" font-size="7.6" fill="#262626" text-anchor="middle">75</text>
<text x="600.1" y="583.23" font-size="7.6" fill="#262626" text-anchor="middle">85</text>
<text x="588.8" y="672.96" font-size="7.4" fill="#404040" text-anchor="middle">2010</text>
<rect x="614.95" y="591.33" width="5.9" height="69.47" fill="#135c8d"/>
<rect x="622.4" y="608.7" width="5.9" height="52.1" fill="#3e82ad"/>
<rect x="629.85" y="604.36" width="5.9" height="56.44" fill="#808080"/>
<rect x="637.3" y="593.07" width="5.9" height="67.73" fill="#c0c0c0"/>
<text x="617.9" y="587.57" font-size="7.6" fill="#262626" text-anchor="middle">80</text>
<text x="625.35" y="604.94" font-size="7.6" fill="#262626" text-anchor="middle">60</text>
<text x="632.8" y="600.59" font-size="7.6" fill="#262626" text-anchor="middle">65</text>
<text x="640.25" y="589.31" font-size="7.6" fill="#262626" text-anchor="middle">78</text>
<text x="628.95" y="672.96" font-size="7.4" fill="#404040" text-anchor="middle">2012</text>
<rect x="655.1" y="582.65" width="5.9" height="78.15" fill="#135c8d"/>
<rect x="662.55" y="595.67" width="5.9" height="65.12" fill="#3e82ad"/>
<rect x="670" y="610.44" width="5.9" height="50.36" fill="#808080"/>
<rect x="677.45" y="601.75" width="5.9" height="59.05" fill="#c0c0c0"/>
<text x="658.05" y="578.89" font-size="7.6" fill="#262626" text-anchor="middle">90</text>
<text x="665.5" y="591.91" font-size="7.6" fill="#262626" text-anchor="middle">75</text>
<text x="672.95" y="606.67" font-size="7.6" fill="#262626" text-anchor="middle">58</text>
<text x="680.4" y="597.99" font-size="7.6" fill="#262626" text-anchor="middle">68</text>
<text x="669.1" y="672.96" font-size="7.4" fill="#404040" text-anchor="middle">2014</text>
<rect x="695.25" y="573.97" width="5.9" height="86.83" fill="#135c8d"/>
<rect x="702.7" y="582.65" width="5.9" height="78.15" fill="#3e82ad"/>
<rect x="710.15" y="620.86" width="5.9" height="39.94" fill="#808080"/>
<rect x="717.6" y="652.98" width="5.9" height="7.81" fill="#c0c0c0"/>
<text x="698.2" y="570.2" font-size="7.6" fill="#262626" text-anchor="middle">100</text>
<text x="705.65" y="578.89" font-size="7.6" fill="#262626" text-anchor="middle">90</text>
<text x="713.1" y="617.09" font-size="7.6" fill="#262626" text-anchor="middle">46</text>
<text x="720.55" y="649.22" font-size="7.6" fill="#262626" text-anchor="middle">9</text>
<text x="709.25" y="672.96" font-size="7.4" fill="#404040" text-anchor="middle">2016</text>
<rect x="735.4" y="556.6" width="5.9" height="104.2" fill="#135c8d"/>
<rect x="742.85" y="591.33" width="5.9" height="69.47" fill="#3e82ad"/>
<rect x="750.3" y="633.01" width="5.9" height="27.79" fill="#808080"/>
<rect x="757.75" y="639.96" width="5.9" height="20.84" fill="#c0c0c0"/>
<text x="738.35" y="552.84" font-size="7.6" fill="#262626" text-anchor="middle">120</text>
<text x="745.8" y="587.57" font-size="7.6" fill="#262626" text-anchor="middle">80</text>
<text x="753.25" y="629.25" font-size="7.6" fill="#262626" text-anchor="middle">32</text>
<text x="760.7" y="636.2" font-size="7.6" fill="#262626" text-anchor="middle">24</text>
<text x="749.4" y="672.96" font-size="7.4" fill="#404040" text-anchor="middle">2018</text>
<rect x="775.55" y="565.28" width="5.9" height="95.52" fill="#135c8d"/>
<rect x="783" y="582.65" width="5.9" height="78.15" fill="#3e82ad"/>
<rect x="790.45" y="613.91" width="5.9" height="46.89" fill="#808080"/>
<rect x="797.9" y="629.54" width="5.9" height="31.26" fill="#c0c0c0"/>
<text x="778.5" y="561.52" font-size="7.6" fill="#262626" text-anchor="middle">110</text>
<text x="785.95" y="578.89" font-size="7.6" fill="#262626" text-anchor="middle">90</text>
<text x="793.4" y="610.15" font-size="7.6" fill="#262626" text-anchor="middle">54</text>
<text x="800.85" y="625.78" font-size="7.6" fill="#262626" text-anchor="middle">36</text>
<text x="789.55" y="672.96" font-size="7.4" fill="#404040" text-anchor="middle">2020</text>
<rect x="815.7" y="521.87" width="5.9" height="138.93" fill="#135c8d"/>
<rect x="823.15" y="577.44" width="5.9" height="83.36" fill="#3e82ad"/>
<rect x="830.6" y="624.33" width="5.9" height="36.47" fill="#808080"/>
<rect x="838.05" y="614.78" width="5.9" height="46.02" fill="#c0c0c0"/>
<text x="818.65" y="518.1" font-size="7.6" fill="#262626" text-anchor="middle">160</text>
<text x="826.1" y="573.68" font-size="7.6" fill="#262626" text-anchor="middle">96</text>
<text x="833.55" y="620.57" font-size="7.6" fill="#262626" text-anchor="middle">42</text>
<text x="841" y="611.01" font-size="7.6" fill="#262626" text-anchor="middle">53</text>
<text x="829.7" y="672.96" font-size="7.4" fill="#404040" text-anchor="middle">2022</text>
<rect x="855.85" y="530.55" width="5.9" height="130.25" fill="#135c8d"/>
<rect x="863.3" y="556.6" width="5.9" height="104.2" fill="#3e82ad"/>
<rect x="870.75" y="629.54" width="5.9" height="31.26" fill="#808080"/>
<rect x="878.2" y="624.33" width="5.9" height="36.47" fill="#c0c0c0"/>
<text x="858.8" y="526.79" font-size="7.6" fill="#262626" text-anchor="middle">150</text>
<text x="866.25" y="552.84" font-size="7.6" fill="#262626" text-anchor="middle">120</text>
<text x="873.7" y="625.78" font-size="7.6" fill="#262626" text-anchor="middle">36</text>
<text x="881.15" y="620.57" font-size="7.6" fill="#262626" text-anchor="middle">42</text>
<text x="869.85" y="672.96" font-size="7.4" fill="#404040" text-anchor="middle">2024</text>
<rect x="896" y="547.92" width="5.9" height="112.88" fill="#135c8d"/>
<rect x="903.45" y="565.28" width="5.9" height="95.52" fill="#3e82ad"/>
<rect x="910.9" y="606.96" width="5.9" height="53.84" fill="#808080"/>
<rect x="918.35" y="633.01" width="5.9" height="27.79" fill="#c0c0c0"/>
<text x="898.95" y="544.15" font-size="7.6" fill="#262626" text-anchor="middle">130</text>
<text x="906.4" y="561.52" font-size="7.6" fill="#262626" text-anchor="middle">110</text>
<text x="913.85" y="603.2" font-size="7.6" fill="#262626" text-anchor="middle">62</text>
<text x="921.3" y="629.25" font-size="7.6" fill="#262626" text-anchor="middle">32</text>
<text x="910" y="672.96" font-size="7.4" fill="#404040" text-anchor="middle">2026</text>
<rect x="0" y="740" width="475" height="360" fill="#ffffff"/>
<rect x="25" y="740" width="6" height="360" fill="url(#strip)"/>
<use href="#logo" x="5.7" y="747.6" width="15.2" height="15.2" style="color:#173d66"/>
<text transform="translate(15.5,920) rotate(-90)" font-size="5.6" fill="#222" text-anchor="middle" textLength="71.4" lengthAdjust="spacingAndGlyphs">Business plan | <tspan font-weight="bold">商业计划书</tspan></text>
<text x="12.9" y="1091.5" font-size="8.5" fill="#111" text-anchor="middle" font-weight="bold">46</text>
<text x="459.5" y="1091.2" font-size="6.2" fill="#666" text-anchor="end" textLength="107.5" lengthAdjust="spacingAndGlyphs">www.pptgenius.com | 内部资料 禁止外传</text>
<text x="57" y="788.5" font-size="18" fill="#262626" textLength="36" lengthAdjust="spacingAndGlyphs">饼图</text>
<text x="255" y="839.75" font-size="13.2" fill="#262626" text-anchor="middle" textLength="145.2" lengthAdjust="spacingAndGlyphs">柱状图数据图表分析工具</text>
<rect x="209.4" y="861.1" width="3.2" height="3.2" fill="#a5a5a5"/>
<text x="215" y="865.77" font-size="7.7" fill="#404040" textLength="19.68" lengthAdjust="spacingAndGlyphs">分类3</text>
<rect x="246.3" y="861.1" width="3.2" height="3.2" fill="#4d8db5"/>
<text x="251.9" y="865.77" font-size="7.7" fill="#404040" textLength="19.68" lengthAdjust="spacingAndGlyphs">分类2</text>
<rect x="284.4" y="861.1" width="3.2" height="3.2" fill="#14507f"/>
<text x="290" y="865.77" font-size="7.7" fill="#404040" textLength="19.68" lengthAdjust="spacingAndGlyphs">分类1</text>
<line x1="106.7" y1="877" x2="106.7" y2="1030" stroke="#e0e0e0" stroke-width="0.8"/>
<text x="106.7" y="1042.86" font-size="7.4" fill="#404040" text-anchor="middle">0</text>
<line x1="152.2" y1="877" x2="152.2" y2="1030" stroke="#e0e0e0" stroke-width="0.8"/>
<text x="152.2" y="1042.86" font-size="7.4" fill="#404040" text-anchor="middle">20</text>
<line x1="197.7" y1="877" x2="197.7" y2="1030" stroke="#e0e0e0" stroke-width="0.8"/>
<text x="197.7" y="1042.86" font-size="7.4" fill="#404040" text-anchor="middle">40</text>
<line x1="243.2" y1="877" x2="243.2" y2="1030" stroke="#e0e0e0" stroke-width="0.8"/>
<text x="243.2" y="1042.86" font-size="7.4" fill="#404040" text-anchor="middle">60</text>
<line x1="288.7" y1="877" x2="288.7" y2="1030" stroke="#e0e0e0" stroke-width="0.8"/>
<text x="288.7" y="1042.86" font-size="7.4" fill="#404040" text-anchor="middle">80</text>
<line x1="334.2" y1="877" x2="334.2" y2="1030" stroke="#e0e0e0" stroke-width="0.8"/>
<text x="334.2" y="1042.86" font-size="7.4" fill="#404040" text-anchor="middle">100</text>
<line x1="379.7" y1="877" x2="379.7" y2="1030" stroke="#e0e0e0" stroke-width="0.8"/>
<text x="379.7" y="1042.86" font-size="7.4" fill="#404040" text-anchor="middle">120</text>
<line x1="425.2" y1="877" x2="425.2" y2="1030" stroke="#e0e0e0" stroke-width="0.8"/>
<text x="425.2" y="1042.86" font-size="7.4" fill="#404040" text-anchor="middle">140</text>
<rect x="106.7" y="883.5" width="273" height="5.1" fill="#a5a5a5"/>
<text x="383.7" y="888.74" font-size="7.6" fill="#262626">120</text>
<rect x="106.7" y="891.4" width="232.05" height="5.1" fill="#4d8db5"/>
<text x="342.75" y="896.64" font-size="7.6" fill="#262626">102</text>
<rect x="106.7" y="899.3" width="182" height="5.1" fill="#14507f"/>
<text x="292.7" y="904.54" font-size="7.6" fill="#262626">80</text>
<text x="100" y="896.71" font-size="7.8" fill="#404040" text-anchor="end" textLength="19.94" lengthAdjust="spacingAndGlyphs">数据5</text>
<rect x="106.7" y="914.05" width="175.17" height="5.1" fill="#a5a5a5"/>
<text x="285.88" y="919.29" font-size="7.6" fill="#262626" font-weight="bold">77</text>
<rect x="106.7" y="921.95" width="222.95" height="5.1" fill="#4d8db5"/>
<text x="333.65" y="927.19" font-size="7.6" fill="#262626">98</text>
<rect x="106.7" y="929.85" width="147.88" height="5.1" fill="#14507f"/>
<text x="258.57" y="935.09" font-size="7.6" fill="#262626">65</text>
<text x="100" y="927.26" font-size="7.8" fill="#404040" text-anchor="end" textLength="19.94" lengthAdjust="spacingAndGlyphs">数据4</text>
<rect x="106.7" y="944.6" width="182" height="5.1" fill="#a5a5a5"/>
<text x="292.7" y="949.84" font-size="7.6" fill="#262626">80</text>
<rect x="106.7" y="952.5" width="200.2" height="5.1" fill="#4d8db5"/>
<text x="310.9" y="957.74" font-size="7.6" fill="#262626">88</text>
<rect x="106.7" y="960.4" width="154.7" height="5.1" fill="#14507f"/>
<text x="265.4" y="965.64" font-size="7.6" fill="#262626">68</text>
<text x="100" y="957.81" font-size="7.8" fill="#404040" text-anchor="end" textLength="19.94" lengthAdjust="spacingAndGlyphs">数据3</text>
<rect x="106.7" y="975.15" width="147.88" height="5.1" fill="#a5a5a5"/>
<text x="258.57" y="980.39" font-size="7.6" fill="#262626">65</text>
<rect x="106.7" y="983.05" width="216.12" height="5.1" fill="#4d8db5"/>
<text x="326.82" y="988.29" font-size="7.6" fill="#262626">95</text>
<rect x="106.7" y="990.95" width="170.62" height="5.1" fill="#14507f"/>
<text x="281.32" y="996.19" font-size="7.6" fill="#262626">75</text>
<text x="100" y="988.36" font-size="7.8" fill="#404040" text-anchor="end" textLength="19.94" lengthAdjust="spacingAndGlyphs">数据2</text>
<rect x="106.7" y="1005.7" width="177.45" height="5.1" fill="#a5a5a5"/>
<text x="288.15" y="1010.94" font-size="7.6" fill="#262626">78</text>
<rect x="106.7" y="1013.6" width="195.65" height="5.1" fill="#4d8db5"/>
<text x="306.35" y="1018.84" font-size="7.6" fill="#262626">86</text>
<rect x="106.7" y="1021.5" width="182" height="5.1" fill="#14507f"/>
<text x="292.7" y="1026.74" font-size="7.6" fill="#262626">80</text>
<text x="100" y="1018.91" font-size="7.8" fill="#404040" text-anchor="end" textLength="19.94" lengthAdjust="spacingAndGlyphs">数据1</text>
<rect x="485" y="740" width="475" height="360" fill="#ffffff"/>
<rect x="510" y="740" width="6" height="360" fill="url(#strip)"/>
<use href="#logo" x="490.7" y="747.6" width="15.2" height="15.2" style="color:#173d66"/>
<text transform="translate(500.5,920) rotate(-90)" font-size="5.6" fill="#222" text-anchor="middle" textLength="71.4" lengthAdjust="spacingAndGlyphs">Business plan | <tspan font-weight="bold">商业计划书</tspan></text>
<text x="497.9" y="1091.5" font-size="8.5" fill="#111" text-anchor="middle" font-weight="bold">47</text>
<text x="944.5" y="1091.2" font-size="6.2" fill="#666" text-anchor="end" textLength="107.5" lengthAdjust="spacingAndGlyphs">www.pptgenius.com | 内部资料 禁止外传</text>
<text x="542" y="788.5" font-size="18" fill="#262626" textLength="72" lengthAdjust="spacingAndGlyphs">折线图表</text>
<text x="651" y="856.62" font-size="13.1" fill="#262626" text-anchor="middle" textLength="117.9" lengthAdjust="spacingAndGlyphs">折线图数据分析工具</text>
<line x1="602.2" y1="882.5" x2="615.8" y2="882.5" stroke="#1b4a72" stroke-width="2"/>
<text x="617" y="884.95" font-size="6.8" fill="#404040" textLength="20.4" lengthAdjust="spacingAndGlyphs">系列一</text>
<line x1="648" y1="882.5" x2="661" y2="882.5" stroke="#e0e0e0" stroke-width="2"/>
<text x="663" y="884.95" font-size="6.8" fill="#404040" textLength="20.4" lengthAdjust="spacingAndGlyphs">系列二</text>
<line x1="559.5" y1="1003.9" x2="736.7" y2="1003.9" stroke="#f0f0f0" stroke-width="0.7"/>
<text x="553" y="1006.35" font-size="6.8" fill="#262626" text-anchor="end">0</text>
<line x1="559.5" y1="982.24" x2="736.7" y2="982.24" stroke="#f0f0f0" stroke-width="0.7"/>
<text x="553" y="984.69" font-size="6.8" fill="#262626" text-anchor="end">50</text>
<line x1="559.5" y1="960.58" x2="736.7" y2="960.58" stroke="#f0f0f0" stroke-width="0.7"/>
<text x="553" y="963.03" font-size="6.8" fill="#262626" text-anchor="end">100</text>
<line x1="559.5" y1="938.92" x2="736.7" y2="938.92" stroke="#f0f0f0" stroke-width="0.7"/>
<text x="553" y="941.37" font-size="6.8" fill="#262626" text-anchor="end">150</text>
<line x1="559.5" y1="917.26" x2="736.7" y2="917.26" stroke="#f0f0f0" stroke-width="0.7"/>
<text x="553" y="919.71" font-size="6.8" fill="#262626" text-anchor="end">200</text>
<line x1="559.5" y1="895.6" x2="736.7" y2="895.6" stroke="#f0f0f0" stroke-width="0.7"/>
<text x="553" y="898.05" font-size="6.8" fill="#262626" text-anchor="end">250</text>
<line x1="559.5" y1="895.6" x2="559.5" y2="1003.9" stroke="#f2f2f2" stroke-width="0.7"/>
<line x1="581.65" y1="895.6" x2="581.65" y2="1003.9" stroke="#f2f2f2" stroke-width="0.7"/>
<line x1="603.8" y1="895.6" x2="603.8" y2="1003.9" stroke="#f2f2f2" stroke-width="0.7"/>
<line x1="625.95" y1="895.6" x2="625.95" y2="1003.9" stroke="#f2f2f2" stroke-width="0.7"/>
<line x1="648.1" y1="895.6" x2="648.1" y2="1003.9" stroke="#f2f2f2" stroke-width="0.7"/>
<line x1="670.25" y1="895.6" x2="670.25" y2="1003.9" stroke="#f2f2f2" stroke-width="0.7"/>
<line x1="692.4" y1="895.6" x2="692.4" y2="1003.9" stroke="#f2f2f2" stroke-width="0.7"/>
<line x1="714.55" y1="895.6" x2="714.55" y2="1003.9" stroke="#f2f2f2" stroke-width="0.7"/>
<line x1="736.7" y1="895.6" x2="736.7" y2="1003.9" stroke="#f2f2f2" stroke-width="0.7"/>
<path d="M570.58,1003.9 C574.27,1000.29 585.34,996.68 592.73,982.24 C600.11,967.8 607.49,914.37 614.88,917.26 C622.26,920.15 629.64,990.9 637.02,999.57 C644.41,1008.23 651.79,973.58 659.18,969.24 C666.56,964.91 673.94,980.8 681.33,973.58 C688.71,966.36 696.09,934.59 703.48,925.92 C710.86,917.26 721.93,922.31 725.62,921.59" fill="none" stroke="#e3e3e3" stroke-width="2.2"/>
<path d="M570.58,982.24 C574.27,980.07 585.34,967.8 592.73,969.24 C600.11,970.69 607.49,991.63 614.88,990.9 C622.26,990.18 629.64,965.63 637.02,964.91 C644.41,964.19 651.79,988.74 659.18,986.57 C666.56,984.41 673.94,952.28 681.33,951.92 C688.71,951.55 696.09,981.52 703.48,984.41 C710.86,987.29 721.93,971.77 725.62,969.24" fill="none" stroke="#fff" stroke-width="4.2"/>
<path d="M570.58,982.24 C574.27,980.07 585.34,967.8 592.73,969.24 C600.11,970.69 607.49,991.63 614.88,990.9 C622.26,990.18 629.64,965.63 637.02,964.91 C644.41,964.19 651.79,988.74 659.18,986.57 C666.56,984.41 673.94,952.28 681.33,951.92 C688.71,951.55 696.09,981.52 703.48,984.41 C710.86,987.29 721.93,971.77 725.62,969.24" fill="none" stroke="#1b4a72" stroke-width="2.2"/>
<text x="570.58" y="1015.18" font-size="6.9" fill="#262626" text-anchor="middle" textLength="17.64" lengthAdjust="spacingAndGlyphs">数据1</text>
<text x="592.73" y="1015.18" font-size="6.9" fill="#262626" text-anchor="middle" textLength="17.64" lengthAdjust="spacingAndGlyphs">数据2</text>
<text x="614.88" y="1015.18" font-size="6.9" fill="#262626" text-anchor="middle" textLength="17.64" lengthAdjust="spacingAndGlyphs">数据3</text>
<text x="637.02" y="1015.18" font-size="6.9" fill="#262626" text-anchor="middle" textLength="17.64" lengthAdjust="spacingAndGlyphs">数据4</text>
<text x="659.18" y="1015.18" font-size="6.9" fill="#262626" text-anchor="middle" textLength="17.64" lengthAdjust="spacingAndGlyphs">数据5</text>
<text x="681.33" y="1015.18" font-size="6.9" fill="#262626" text-anchor="middle" textLength="17.64" lengthAdjust="spacingAndGlyphs">数据6</text>
<text x="703.48" y="1015.18" font-size="6.9" fill="#262626" text-anchor="middle" textLength="17.64" lengthAdjust="spacingAndGlyphs">数据7</text>
<text x="725.62" y="1015.18" font-size="6.9" fill="#262626" text-anchor="middle" textLength="17.64" lengthAdjust="spacingAndGlyphs">数据8</text>
<text x="856" y="853.32" font-size="13.1" fill="#262626" text-anchor="middle" textLength="117.9" lengthAdjust="spacingAndGlyphs">折线图数据分析工具</text>
<line x1="810" y1="880.3" x2="824.2" y2="880.3" stroke="#1b5a8a" stroke-width="2"/>
<circle cx="817" cy="880.3" r="2.5" fill="#1b5a8a"/>
<text x="825.5" y="882.75" font-size="6.8" fill="#404040" textLength="20.4" lengthAdjust="spacingAndGlyphs">系列一</text>
<line x1="855" y1="880.3" x2="868" y2="880.3" stroke="#e3e3e3" stroke-width="2"/>
<circle cx="861.5" cy="880.3" r="2.5" fill="#e3e3e3"/>
<text x="870" y="882.75" font-size="6.8" fill="#404040" textLength="20.4" lengthAdjust="spacingAndGlyphs">系列二</text>
<line x1="768.4" y1="1003.5" x2="946.7" y2="1003.5" stroke="#f0f0f0" stroke-width="0.7"/>
<text x="763" y="1005.95" font-size="6.8" fill="#262626" text-anchor="end">0</text>
<line x1="768.4" y1="982.46" x2="946.7" y2="982.46" stroke="#f0f0f0" stroke-width="0.7"/>
<text x="763" y="984.91" font-size="6.8" fill="#262626" text-anchor="end">50</text>
<line x1="768.4" y1="961.42" x2="946.7" y2="961.42" stroke="#f0f0f0" stroke-width="0.7"/>
<text x="763" y="963.87" font-size="6.8" fill="#262626" text-anchor="end">100</text>
<line x1="768.4" y1="940.38" x2="946.7" y2="940.38" stroke="#f0f0f0" stroke-width="0.7"/>
<text x="763" y="942.83" font-size="6.8" fill="#262626" text-anchor="end">150</text>
<line x1="768.4" y1="919.34" x2="946.7" y2="919.34" stroke="#f0f0f0" stroke-width="0.7"/>
<text x="763" y="921.79" font-size="6.8" fill="#262626" text-anchor="end">200</text>
<line x1="768.4" y1="898.3" x2="946.7" y2="898.3" stroke="#f0f0f0" stroke-width="0.7"/>
<text x="763" y="900.75" font-size="6.8" fill="#262626" text-anchor="end">250</text>
<line x1="768.4" y1="898.3" x2="768.4" y2="1003.5" stroke="#f2f2f2" stroke-width="0.7"/>
<line x1="790.69" y1="898.3" x2="790.69" y2="1003.5" stroke="#f2f2f2" stroke-width="0.7"/>
<line x1="812.98" y1="898.3" x2="812.98" y2="1003.5" stroke="#f2f2f2" stroke-width="0.7"/>
<line x1="835.26" y1="898.3" x2="835.26" y2="1003.5" stroke="#f2f2f2" stroke-width="0.7"/>
<line x1="857.55" y1="898.3" x2="857.55" y2="1003.5" stroke="#f2f2f2" stroke-width="0.7"/>
<line x1="879.84" y1="898.3" x2="879.84" y2="1003.5" stroke="#f2f2f2" stroke-width="0.7"/>
<line x1="902.12" y1="898.3" x2="902.12" y2="1003.5" stroke="#f2f2f2" stroke-width="0.7"/>
<line x1="924.41" y1="898.3" x2="924.41" y2="1003.5" stroke="#f2f2f2" stroke-width="0.7"/>
<line x1="946.7" y1="898.3" x2="946.7" y2="1003.5" stroke="#f2f2f2" stroke-width="0.7"/>
<path d="M779.54,1003.5 C783.26,999.99 794.4,996.49 801.83,982.46 C809.26,968.43 816.69,916.53 824.12,919.34 C831.55,922.15 838.98,990.88 846.41,999.29 C853.84,1007.71 861.26,974.04 868.69,969.84 C876.12,965.63 883.55,981.06 890.98,974.04 C898.41,967.03 905.84,936.17 913.27,927.76 C920.7,919.34 931.84,924.25 935.56,923.55" fill="none" stroke="#e3e3e3" stroke-width="2.2"/>
<circle cx="779.54" cy="1003.5" r="2.6" fill="#e3e3e3"/>
<circle cx="801.83" cy="982.46" r="2.6" fill="#e3e3e3"/>
<circle cx="824.12" cy="919.34" r="2.6" fill="#e3e3e3"/>
<circle cx="846.41" cy="999.29" r="2.6" fill="#e3e3e3"/>
<circle cx="868.69" cy="969.84" r="2.6" fill="#e3e3e3"/>
<circle cx="890.98" cy="974.04" r="2.6" fill="#e3e3e3"/>
<circle cx="913.27" cy="927.76" r="2.6" fill="#e3e3e3"/>
<circle cx="935.56" cy="923.55" r="2.6" fill="#e3e3e3"/>
<path d="M779.54,982.46 C783.26,980.36 794.4,968.43 801.83,969.84 C809.26,971.24 816.69,991.58 824.12,990.88 C831.55,990.17 838.98,966.33 846.41,965.63 C853.84,964.93 861.26,987.23 868.69,986.67 C876.12,986.11 883.55,962.61 890.98,962.26 C898.41,961.91 905.84,983.3 913.27,984.56 C920.7,985.83 931.84,972.29 935.56,969.84" fill="none" stroke="#fff" stroke-width="4.2"/>
<path d="M779.54,982.46 C783.26,980.36 794.4,968.43 801.83,969.84 C809.26,971.24 816.69,991.58 824.12,990.88 C831.55,990.17 838.98,966.33 846.41,965.63 C853.84,964.93 861.26,987.23 868.69,986.67 C876.12,986.11 883.55,962.61 890.98,962.26 C898.41,961.91 905.84,983.3 913.27,984.56 C920.7,985.83 931.84,972.29 935.56,969.84" fill="none" stroke="#1b5a8a" stroke-width="2.2"/>
<circle cx="779.54" cy="982.46" r="3" fill="#1b5a8a"/>
<circle cx="801.83" cy="969.84" r="3" fill="#1b5a8a"/>
<circle cx="824.12" cy="990.88" r="3" fill="#1b5a8a"/>
<circle cx="846.41" cy="965.63" r="3" fill="#1b5a8a"/>
<circle cx="868.69" cy="986.67" r="3" fill="#1b5a8a"/>
<circle cx="890.98" cy="962.26" r="3" fill="#1b5a8a"/>
<circle cx="913.27" cy="984.56" r="3" fill="#1b5a8a"/>
<circle cx="935.56" cy="969.84" r="3" fill="#1b5a8a"/>
<text x="779.54" y="1016.28" font-size="6.9" fill="#262626" text-anchor="middle" textLength="17.64" lengthAdjust="spacingAndGlyphs">数据1</text>
<text x="801.83" y="1016.28" font-size="6.9" fill="#262626" text-anchor="middle" textLength="17.64" lengthAdjust="spacingAndGlyphs">数据2</text>
<text x="824.12" y="1016.28" font-size="6.9" fill="#262626" text-anchor="middle" textLength="17.64" lengthAdjust="spacingAndGlyphs">数据3</text>
<text x="846.41" y="1016.28" font-size="6.9" fill="#262626" text-anchor="middle" textLength="17.64" lengthAdjust="spacingAndGlyphs">数据4</text>
<text x="868.69" y="1016.28" font-size="6.9" fill="#262626" text-anchor="middle" textLength="17.64" lengthAdjust="spacingAndGlyphs">数据5</text>
<text x="890.98" y="1016.28" font-size="6.9" fill="#262626" text-anchor="middle" textLength="17.64" lengthAdjust="spacingAndGlyphs">数据6</text>
<text x="913.27" y="1016.28" font-size="6.9" fill="#262626" text-anchor="middle" textLength="17.64" lengthAdjust="spacingAndGlyphs">数据7</text>
<text x="935.56" y="1016.28" font-size="6.9" fill="#262626" text-anchor="middle" textLength="17.64" lengthAdjust="spacingAndGlyphs">数据8</text>
<rect x="0" y="1110" width="475" height="360" fill="#ffffff"/>
<rect x="25" y="1110" width="6" height="360" fill="url(#strip)"/>
<use href="#logo" x="5.7" y="1117.6" width="15.2" height="15.2" style="color:#173d66"/>
<text transform="translate(15.5,1290) rotate(-90)" font-size="5.6" fill="#222" text-anchor="middle" textLength="71.4" lengthAdjust="spacingAndGlyphs">Business plan | <tspan font-weight="bold">商业计划书</tspan></text>
<text x="12.9" y="1461.5" font-size="8.5" fill="#111" text-anchor="middle" font-weight="bold">48</text>
<text x="459.5" y="1461.2" font-size="6.2" fill="#666" text-anchor="end" textLength="107.5" lengthAdjust="spacingAndGlyphs">www.pptgenius.com | 内部资料 禁止外传</text>
<text x="57" y="1158.5" font-size="18" fill="#262626" textLength="36" lengthAdjust="spacingAndGlyphs">饼图</text>
<line x1="250.5" y1="1215" x2="250.5" y2="1385" stroke="#f0f0f0" stroke-width="1"/>
<text x="140.7" y="1219.75" font-size="13.2" fill="#262626" text-anchor="middle" textLength="105.6" lengthAdjust="spacingAndGlyphs">比例数据对比图表</text>
<rect x="64.4" y="1235.3" width="2.8" height="2.8" fill="#0f5b8b"/>
<text x="69.7" y="1239.74" font-size="7.6" fill="#404040" textLength="19.43" lengthAdjust="spacingAndGlyphs">分类1</text>
<rect x="97.25" y="1235.3" width="2.8" height="2.8" fill="#1f6a98"/>
<text x="102.55" y="1239.74" font-size="7.6" fill="#404040" textLength="19.43" lengthAdjust="spacingAndGlyphs">分类2</text>
<rect x="130.1" y="1235.3" width="2.8" height="2.8" fill="#2b73a1"/>
<text x="135.4" y="1239.74" font-size="7.6" fill="#404040" textLength="19.43" lengthAdjust="spacingAndGlyphs">分类3</text>
<rect x="162.95" y="1235.3" width="2.8" height="2.8" fill="#3f80aa"/>
<text x="168.25" y="1239.74" font-size="7.6" fill="#404040" textLength="19.43" lengthAdjust="spacingAndGlyphs">分类4</text>
<rect x="195.8" y="1235.3" width="2.8" height="2.8" fill="#5c95bb"/>
<text x="201.1" y="1239.74" font-size="7.6" fill="#404040" textLength="19.43" lengthAdjust="spacingAndGlyphs">分类5</text>
<path d="M145,1325 L145,1258.5 A66.5,66.5 0 0 1 171.49,1385.99 Z" fill="#0f5b8b" stroke="#fff" stroke-width="1.2" stroke-linejoin="round"/>
<path d="M145,1325 L171.49,1385.99 A66.5,66.5 0 0 1 82.34,1347.27 Z" fill="#1f6a98" stroke="#fff" stroke-width="1.2" stroke-linejoin="round"/>
<path d="M145,1325 L82.34,1347.27 A66.5,66.5 0 0 1 91.74,1285.18 Z" fill="#2b73a1" stroke="#fff" stroke-width="1.2" stroke-linejoin="round"/>
<path d="M145,1325 L91.74,1285.18 A66.5,66.5 0 0 1 127.06,1260.97 Z" fill="#3f80aa" stroke="#fff" stroke-width="1.2" stroke-linejoin="round"/>
<path d="M145,1325 L127.06,1260.97 A66.5,66.5 0 0 1 145,1258.5 Z" fill="#5c95bb" stroke="#fff" stroke-width="1.2" stroke-linejoin="round"/>
<text x="356" y="1219.75" font-size="13.2" fill="#262626" text-anchor="middle" textLength="132" lengthAdjust="spacingAndGlyphs">数据比例数据对比图表</text>
<rect x="279.2" y="1235.3" width="2.8" height="2.8" fill="#0f5b8b"/>
<text x="284.5" y="1239.74" font-size="7.6" fill="#404040" textLength="19.43" lengthAdjust="spacingAndGlyphs">分类1</text>
<rect x="312.05" y="1235.3" width="2.8" height="2.8" fill="#1f6a98"/>
<text x="317.35" y="1239.74" font-size="7.6" fill="#404040" textLength="19.43" lengthAdjust="spacingAndGlyphs">分类2</text>
<rect x="344.9" y="1235.3" width="2.8" height="2.8" fill="#2b73a1"/>
<text x="350.2" y="1239.74" font-size="7.6" fill="#404040" textLength="19.43" lengthAdjust="spacingAndGlyphs">分类3</text>
<rect x="377.75" y="1235.3" width="2.8" height="2.8" fill="#3f80aa"/>
<text x="383.05" y="1239.74" font-size="7.6" fill="#404040" textLength="19.43" lengthAdjust="spacingAndGlyphs">分类4</text>
<rect x="410.6" y="1235.3" width="2.8" height="2.8" fill="#5c95bb"/>
<text x="415.9" y="1239.74" font-size="7.6" fill="#404040" textLength="19.43" lengthAdjust="spacingAndGlyphs">分类5</text>
<path d="M359.6,1256 A66.3,66.3 0 0 1 386.01,1383.11 L378.32,1365.41 A47,47 0 0 0 359.6,1275.3 Z" fill="#0f5b8b" stroke="#fff" stroke-width="1.2" stroke-linejoin="round"/>
<path d="M386.01,1383.11 A66.3,66.3 0 0 1 297.13,1344.5 L315.31,1338.04 A47,47 0 0 0 378.32,1365.41 Z" fill="#1f6a98" stroke="#fff" stroke-width="1.2" stroke-linejoin="round"/>
<path d="M297.13,1344.5 A66.3,66.3 0 0 1 306.5,1282.6 L321.96,1294.16 A47,47 0 0 0 315.31,1338.04 Z" fill="#2b73a1" stroke="#fff" stroke-width="1.2" stroke-linejoin="round"/>
<path d="M306.5,1282.6 A66.3,66.3 0 0 1 341.71,1258.46 L346.92,1277.04 A47,47 0 0 0 321.96,1294.16 Z" fill="#3f80aa" stroke="#fff" stroke-width="1.2" stroke-linejoin="round"/>
<path d="M341.71,1258.46 A66.3,66.3 0 0 1 359.6,1256 L359.6,1275.3 A47,47 0 0 0 346.92,1277.04 Z" fill="#5c95bb" stroke="#fff" stroke-width="1.2" stroke-linejoin="round"/>
<text x="177.7" y="1321.99" font-size="9" fill="#fff" text-anchor="middle" font-weight="bold">50</text>
<text x="131.9" y="1359.94" font-size="9" fill="#fff" text-anchor="middle" font-weight="bold">30</text>
<text x="112" y="1324.04" font-size="9" fill="#fff" text-anchor="middle" font-weight="bold">18</text>
<text x="126.7" y="1300.94" font-size="9" fill="#fff" text-anchor="middle" font-weight="bold">12</text>
<text x="140.2" y="1295.24" font-size="9" fill="#fff" text-anchor="middle" font-weight="bold">5</text>
<text x="414.8" y="1314.04" font-size="9" fill="#fff" text-anchor="middle" font-weight="bold">50</text>
<text x="336.7" y="1378.24" font-size="9" fill="#fff" text-anchor="middle" font-weight="bold">30</text>
<text x="303.3" y="1317.84" font-size="9" fill="#fff" text-anchor="middle" font-weight="bold">18</text>
<text x="327.9" y="1278.64" font-size="9" fill="#fff" text-anchor="middle" font-weight="bold">12</text>
<text x="351.7" y="1269.24" font-size="9" fill="#fff" text-anchor="middle" font-weight="bold">5</text>
<g fill="#1a5a8a">
<path d="M342.8,1303.6 H357 V1316 H352.2 L351.2,1319.2 L350,1316 H342.8 Z" fill="#fff" stroke="#1a5a8a" stroke-width="1.1" stroke-linejoin="round"/>
<path d="M345.7,1307.8 H354.8 M345.7,1310.5 H354.8 M345.7,1312.8 H354.8" stroke="#1a5a8a" stroke-width="1.1"/>
<ellipse cx="362.7" cy="1313" rx="6.2" ry="8.3" fill="#fff" stroke="#1a5a8a" stroke-width="1.1"/>
<path d="M356.3,1312 C355.5,1305 360,1303.6 363.5,1303.9 C368,1304.2 370.2,1307.5 369.2,1312.5 C368,1309 366,1308.5 363.5,1308.2 C360.5,1308 358,1309.5 356.3,1312 Z"/>
<path d="M349.2,1333.8 C349,1326 352,1323.5 357.5,1322.3 L362.6,1328.5 L367.5,1322.3 C373.5,1323.5 376.5,1326 376.7,1333.8 Z"/>
<path d="M361.3,1323.6 H363.9 L364.4,1329.5 L362.6,1331.5 L360.8,1329.5 Z"/>
<rect x="367" y="1328" width="4.7" height="1.7" fill="#fff"/>
</g>
<rect x="485" y="1110" width="475" height="360" fill="#ffffff"/>
<rect x="510" y="1110" width="6" height="360" fill="url(#strip)"/>
<use href="#logo" x="490.7" y="1117.6" width="15.2" height="15.2" style="color:#173d66"/>
<text transform="translate(500.5,1290) rotate(-90)" font-size="5.6" fill="#222" text-anchor="middle" textLength="71.4" lengthAdjust="spacingAndGlyphs">Business plan | <tspan font-weight="bold">商业计划书</tspan></text>
<text x="497.9" y="1461.5" font-size="8.5" fill="#111" text-anchor="middle" font-weight="bold">49</text>
<text x="944.5" y="1461.2" font-size="6.2" fill="#666" text-anchor="end" textLength="107.5" lengthAdjust="spacingAndGlyphs">www.pptgenius.com | 内部资料 禁止外传</text>
<text x="542" y="1158.5" font-size="18" fill="#262626" textLength="36" lengthAdjust="spacingAndGlyphs">饼图</text>
<text x="603.6" y="1211.52" font-size="13.1" fill="#262626" text-anchor="middle" textLength="78.6" lengthAdjust="spacingAndGlyphs">输入你的标题</text>
<rect x="593.4" y="1224.6" width="2.8" height="2.8" fill="#1a5a8a"/>
<text x="598.7" y="1229.04" font-size="7.6" fill="#404040" textLength="19.43" lengthAdjust="spacingAndGlyphs">分类1</text>
<path d="M651.22,1285.43 A46.5,46.5 0 1 1 607,1253.3 L607,1275.8 A24,24 0 1 0 629.83,1292.38 Z" fill="#d9d9d9" stroke="#fff" stroke-width="1"/>
<path d="M607,1253.3 A46.5,46.5 0 0 1 651.22,1285.43 L629.83,1292.38 A24,24 0 0 0 607,1275.8 Z" fill="#1a5a8a" stroke="#fff" stroke-width="1"/>
<g transform="translate(607,1298.6) scale(1)" fill="#1a5a8a">
<circle cx="-7.5" cy="-9" r="2.6"/>
<path d="M-11,-5.5 h7 v9 h-1.2 v8.5 h-2 v-8 h-0.6 v8 h-2 v-8.5 h-1.2 Z"/>
<circle cx="0" cy="-9" r="2.6"/>
<path d="M-3.5,-5.5 h7 v9 h-1.2 v8.5 h-2 v-8 h-0.6 v8 h-2 v-8.5 h-1.2 Z"/>
<circle cx="7.5" cy="-9" r="2.6"/>
<path d="M4,-5.5 h7 v9 h-1.2 v8.5 h-2 v-8 h-0.6 v8 h-2 v-8.5 h-1.2 Z"/>
</g>
<text x="738" y="1211.52" font-size="13.1" fill="#262626" text-anchor="middle" textLength="78.6" lengthAdjust="spacingAndGlyphs">输入你的标题</text>
<rect x="727.8" y="1224.6" width="2.8" height="2.8" fill="#1a5a8a"/>
<text x="733.1" y="1229.04" font-size="7.6" fill="#404040" textLength="19.43" lengthAdjust="spacingAndGlyphs">分类1</text>
<path d="M785.62,1314.17 A46.5,46.5 0 1 1 741.4,1253.3 L741.4,1275.8 A24,24 0 1 0 764.23,1307.22 Z" fill="#d9d9d9" stroke="#fff" stroke-width="1"/>
<path d="M741.4,1253.3 A46.5,46.5 0 0 1 785.62,1314.17 L764.23,1307.22 A24,24 0 0 0 741.4,1275.8 Z" fill="#1a5a8a" stroke="#fff" stroke-width="1"/>
<g transform="translate(741.4,1298.6) scale(1)" fill="#1a5a8a">
<circle cx="-7.5" cy="-9" r="2.6"/>
<path d="M-11,-5.5 h7 v9 h-1.2 v8.5 h-2 v-8 h-0.6 v8 h-2 v-8.5 h-1.2 Z"/>
<circle cx="0" cy="-9" r="2.6"/>
<path d="M-3.5,-5.5 h7 v9 h-1.2 v8.5 h-2 v-8 h-0.6 v8 h-2 v-8.5 h-1.2 Z"/>
<circle cx="7.5" cy="-9" r="2.6"/>
<path d="M4,-5.5 h7 v9 h-1.2 v8.5 h-2 v-8 h-0.6 v8 h-2 v-8.5 h-1.2 Z"/>
</g>
<text x="872.4" y="1211.52" font-size="13.1" fill="#262626" text-anchor="middle" textLength="78.6" lengthAdjust="spacingAndGlyphs">输入你的标题</text>
<rect x="862.2" y="1224.6" width="2.8" height="2.8" fill="#1a5a8a"/>
<text x="867.5" y="1229.04" font-size="7.6" fill="#404040" textLength="19.43" lengthAdjust="spacingAndGlyphs">分类1</text>
<path d="M903.13,1337.42 A46.5,46.5 0 1 1 875.8,1253.3 L875.8,1275.8 A24,24 0 1 0 889.91,1319.22 Z" fill="#d9d9d9" stroke="#fff" stroke-width="1"/>
<path d="M875.8,1253.3 A46.5,46.5 0 0 1 903.13,1337.42 L889.91,1319.22 A24,24 0 0 0 875.8,1275.8 Z" fill="#1a5a8a" stroke="#fff" stroke-width="1"/>
<g transform="translate(875.8,1298.6) scale(1)" fill="#1a5a8a">
<circle cx="-7.5" cy="-9" r="2.6"/>
<path d="M-11,-5.5 h7 v9 h-1.2 v8.5 h-2 v-8 h-0.6 v8 h-2 v-8.5 h-1.2 Z"/>
<circle cx="0" cy="-9" r="2.6"/>
<path d="M-3.5,-5.5 h7 v9 h-1.2 v8.5 h-2 v-8 h-0.6 v8 h-2 v-8.5 h-1.2 Z"/>
<circle cx="7.5" cy="-9" r="2.6"/>
<path d="M4,-5.5 h7 v9 h-1.2 v8.5 h-2 v-8 h-0.6 v8 h-2 v-8.5 h-1.2 Z"/>
</g>
<text x="627.9" y="1275.04" font-size="9" fill="#fff" text-anchor="middle" font-weight="bold">20</text>
<text x="586.3" y="1333.14" font-size="9" fill="#262626" text-anchor="middle" font-weight="bold">80</text>
<text x="771" y="1282.44" font-size="9" fill="#fff" text-anchor="middle" font-weight="bold">30</text>
<text x="712.6" y="1326.04" font-size="9" fill="#262626" text-anchor="middle" font-weight="bold">70</text>
<text x="909.5" y="1293.84" font-size="9" fill="#fff" text-anchor="middle" font-weight="bold">40</text>
<text x="842.3" y="1315.14" font-size="9" fill="#262626" text-anchor="middle" font-weight="bold">60</text>
<line x1="672.2" y1="1232.5" x2="672.2" y2="1346" stroke="#d9d9d9" stroke-width="0.8"/>
<line x1="805.6" y1="1232.5" x2="805.6" y2="1346" stroke="#d9d9d9" stroke-width="0.8"/>
<text x="737.5" y="1381.92" font-size="13.1" fill="#1a4a78" text-anchor="middle" font-weight="bold" textLength="131" lengthAdjust="spacingAndGlyphs" stroke="#1a4a78" stroke-width="0.35">点击此处添加结论文字</text>
<text x="737.3" y="1400.31" font-size="9.2" fill="#303030" text-anchor="middle" textLength="193.2" lengthAdjust="spacingAndGlyphs" stroke="#303030" stroke-width="0.22">标题数字等都可以通过点击和重新输入进行更改</text>
<rect x="0" y="1480" width="475" height="360" fill="#ffffff"/>
<rect x="25" y="1480" width="6" height="360" fill="url(#strip)"/>
<use href="#logo" x="5.7" y="1487.6" width="15.2" height="15.2" style="color:#173d66"/>
<text transform="translate(15.5,1660) rotate(-90)" font-size="5.6" fill="#222" text-anchor="middle" textLength="71.4" lengthAdjust="spacingAndGlyphs">Business plan | <tspan font-weight="bold">商业计划书</tspan></text>
<text x="12.9" y="1831.5" font-size="8.5" fill="#111" text-anchor="middle" font-weight="bold">50</text>
<text x="459.5" y="1831.2" font-size="6.2" fill="#666" text-anchor="end" textLength="107.5" lengthAdjust="spacingAndGlyphs">www.pptgenius.com | 内部资料 禁止外传</text>
<text x="57" y="1528.5" font-size="18" fill="#262626" textLength="36" lengthAdjust="spacingAndGlyphs">饼图</text>
<path d="M155,1602.5 L203,1570.4 L203,1694.4 L155,1663.5 A47,47 0 0 0 155,1602.5 Z" fill="#e2eaf1"/>
<path d="M147.74,1662.29 A47,47 0 1 1 147.74,1605.71 L132.56,1617.15 A28,28 0 1 0 132.56,1650.85 Z" fill="#d9d9d9"/>
<path d="M149.42,1606.37 A47,47 0 0 1 149.42,1661.63 L134.05,1650.46 A28,28 0 0 0 134.05,1617.54 Z" fill="#145b8c"/>
<line x1="131.76" y1="1617.75" x2="149.33" y2="1604.51" stroke="#fff" stroke-width="2"/>
<line x1="131.76" y1="1650.25" x2="149.33" y2="1663.49" stroke="#fff" stroke-width="2"/>
<g transform="translate(110.2,1635)" fill="#c8c8c8">
<circle cx="0" cy="-7.5" r="3.6"/>
<path d="M-1.6,-7.8 l1.3,1.3 l2.4,-2.6" stroke="#fff" stroke-width="0.9" fill="none"/>
<circle cx="-9" cy="-5.5" r="2.3"/><circle cx="9" cy="-5.5" r="2.3"/>
<path d="M-5,-2 h10 v3 h-3.5 v9 h-3 v-9 h-3.5 Z"/>
<path d="M-12,-2 h5 v12 h-2 v-9 h-1 v9 h-2 Z"/>
<path d="M7,-2 h5 v12 h-2 v-9 h-1 v9 h-2 Z"/>
<rect x="-6" y="4" width="2" height="8"/><rect x="4" y="4" width="2" height="8"/>
</g>
<text x="72.7" y="1639.1" font-size="8.6" fill="#262626" text-anchor="middle" font-weight="bold">80%</text>
<text x="147.7" y="1636.4" font-size="8.6" fill="#fff" text-anchor="middle" font-weight="bold">20%</text>
<rect x="209.2" y="1570.3" width="250.5" height="125.2" fill="#efefef"/>
<text x="333" y="1593.15" font-size="13.2" fill="#262626" text-anchor="middle" textLength="145.2" lengthAdjust="spacingAndGlyphs">柱状图数据图表分析工具</text>
<rect x="255.9" y="1606" width="147.44" height="8.8" fill="#145b8c"/>
<text x="407.84" y="1613.28" font-size="8" fill="#262626">80</text>
<text x="249.7" y="1613.42" font-size="8.4" fill="#404040" text-anchor="end" textLength="21.47" lengthAdjust="spacingAndGlyphs">数据5</text>
<rect x="255.9" y="1622.4" width="119.8" height="8.8" fill="#145b8c"/>
<text x="380.19" y="1629.68" font-size="8" fill="#262626">65</text>
<text x="249.7" y="1629.82" font-size="8.4" fill="#404040" text-anchor="end" textLength="21.47" lengthAdjust="spacingAndGlyphs">数据4</text>
<rect x="255.9" y="1638.8" width="125.32" height="8.8" fill="#145b8c"/>
<text x="385.72" y="1646.08" font-size="8" fill="#262626">68</text>
<text x="249.7" y="1646.22" font-size="8.4" fill="#404040" text-anchor="end" textLength="21.47" lengthAdjust="spacingAndGlyphs">数据3</text>
<rect x="255.9" y="1655.2" width="138.22" height="8.8" fill="#145b8c"/>
<text x="398.62" y="1662.48" font-size="8" fill="#262626">75</text>
<text x="249.7" y="1662.62" font-size="8.4" fill="#404040" text-anchor="end" textLength="21.47" lengthAdjust="spacingAndGlyphs">数据2</text>
<rect x="255.9" y="1671.6" width="147.44" height="8.8" fill="#145b8c"/>
<text x="407.84" y="1678.88" font-size="8" fill="#262626">80</text>
<text x="249.7" y="1679.02" font-size="8.4" fill="#404040" text-anchor="end" textLength="21.47" lengthAdjust="spacingAndGlyphs">数据1</text>
<text x="103.6" y="1743.65" font-size="13.2" fill="#1a4a78" font-weight="bold" textLength="132" lengthAdjust="spacingAndGlyphs" stroke="#1a4a78" stroke-width="0.35">点击此处添加结论文字</text>
<text x="239" y="1742.21" font-size="9.2" fill="#303030" textLength="174.8" lengthAdjust="spacingAndGlyphs" stroke="#303030" stroke-width="0.22">，标题数字等都可以通过点击和重新输入进</text>
<text x="103.6" y="1761.11" font-size="9.2" fill="#303030" textLength="294.4" lengthAdjust="spacingAndGlyphs" stroke="#303030" stroke-width="0.22">行更改，顶部<tspan dx="6.14">“</tspan>开始”<tspan dx="6.14">面</tspan>板中可以对字体、字号、颜色、行距等进行修改</text>
<g clip-path="url(#clip51)">
<rect x="485" y="1480" width="475" height="360" fill="#dcdcdc"/>
<rect x="485" y="1480" width="475" height="360" fill="url(#rad51)"/>
<rect x="485" y="1480" width="475" height="360" fill="url(#rgt51)"/>
<rect x="485" y="1480" width="475" height="360" fill="url(#tl51)"/>
<g filter="url(#blur1)" fill="none" stroke="#fff">
<circle cx="960" cy="1205" r="346" stroke-opacity="0.8" stroke-width="2.2"/>
<circle cx="960" cy="1205" r="356" stroke-opacity="0.95" stroke-width="3"/>
<circle cx="960" cy="1205" r="368" stroke-opacity="0.8" stroke-width="3.8"/>
<circle cx="960" cy="1205" r="379" stroke-opacity="0.95" stroke-width="2.2"/>
<circle cx="960" cy="1205" r="392" stroke-opacity="0.8" stroke-width="3"/>
<circle cx="960" cy="1205" r="408" stroke-opacity="0.95" stroke-width="3.8"/>
<circle cx="960" cy="1205" r="423" stroke-opacity="0.8" stroke-width="2.2"/>
<circle cx="960" cy="1205" r="438" stroke-opacity="0.95" stroke-width="3"/>
<circle cx="960" cy="1205" r="462" stroke-opacity="0.8" stroke-width="3.8"/>
<circle cx="960" cy="1205" r="488" stroke-opacity="0.95" stroke-width="2.2"/>
<circle cx="960" cy="1205" r="521" stroke-opacity="0.8" stroke-width="3"/>
<circle cx="960" cy="1205" r="555" stroke-opacity="0.95" stroke-width="3.8"/>
<circle cx="960" cy="1205" r="592" stroke-opacity="0.8" stroke-width="2.2"/>
<circle cx="960" cy="1205" r="630" stroke-opacity="0.95" stroke-width="3"/>
<circle cx="960" cy="1205" r="672" stroke-opacity="0.8" stroke-width="3.8"/>
<circle cx="960" cy="1205" r="715" stroke-opacity="0.95" stroke-width="2.2"/>
</g>
<rect x="485" y="1480" width="475" height="360" fill="url(#haze51)"/>
<rect x="485" y="1480" width="475" height="360" fill="url(#haze52)"/>
<path d="M485,1673 C580,1712 700,1770 820,1790 C880,1797 930,1772 960,1752 L960,1840 L485,1840 Z" fill="#fff" filter="url(#blur1)"/>
<path d="M485,1707 C560,1735 640,1785 700,1803 C740,1814 770,1819 800,1822 C850,1828 900,1834 960,1840 L485,1840 Z" fill="#e9e9e9" filter="url(#blur1)"/>
<path d="M485,1722.5 C560,1749.5 640,1797.5 700,1812.5 C740,1820.5 770,1823.5 797,1823.5" fill="none" stroke="#fff" stroke-width="2.2"/>
<path d="M485,1725 C560,1752 640,1800 700,1815 C740,1823 770,1826 797,1826 C780,1830 760,1836 745,1840 L485,1840 Z" fill="url(#blue51)"/>
<path d="M960,1757 C900,1780 840,1808 800,1826 C785,1832 768,1837 752,1840 L960,1840 Z" fill="#3c3c3c"/>
</g>
<use href="#logo" x="906.9" y="1497.7" width="37.6" height="37.6" style="color:#1d5f8f"/>
<rect x="561" y="1596.4" width="59" height="56.5" fill="#165d8f"/>
<text x="590.5" y="1641.2" font-size="44" fill="#fff" text-anchor="middle" font-weight="bold">05</text>
<text x="636.5" y="1628" font-size="31.5" fill="#1a5a8a" font-weight="bold" textLength="127" lengthAdjust="spacingAndGlyphs" stroke="#1a5a8a" stroke-width="1.1">行业分析</text>
<line x1="635.7" y1="1643" x2="874.5" y2="1643" stroke="#333" stroke-width="1.4"/>
<text x="636.5" y="1667.21" font-size="11.7" fill="#262626" textLength="234" lengthAdjust="spacingAndGlyphs">主要介绍企业所归属的产业领域的基本情况，</text>
<text x="636.5" y="1684.31" font-size="11.7" fill="#262626" textLength="234" lengthAdjust="spacingAndGlyphs">以及企业在整个产业或行业中的地位。和同类</text>
<text x="636.5" y="1701.41" font-size="11.7" fill="#262626" textLength="234" lengthAdjust="spacingAndGlyphs">型企业进行对比分析，做分析，表现企业的核</text>
<text x="636.5" y="1718.51" font-size="11.7" fill="#262626" textLength="70.2" lengthAdjust="spacingAndGlyphs">心竞争优势。</text>
<text x="495" y="1830.5" font-size="8" fill="#fff" font-weight="bold">51</text>
<text x="512" y="1830" font-size="6.4" fill="#fff" textLength="79.4" lengthAdjust="spacingAndGlyphs">Business plan | <tspan font-weight="bold">商业计划书</tspan></text>
<text x="945" y="1830" font-size="6.2" fill="#9a9a9a" text-anchor="end" textLength="108" lengthAdjust="spacingAndGlyphs">www.pptgenius.com | 内部资料 禁止外传</text>
</svg>
</body></html>
